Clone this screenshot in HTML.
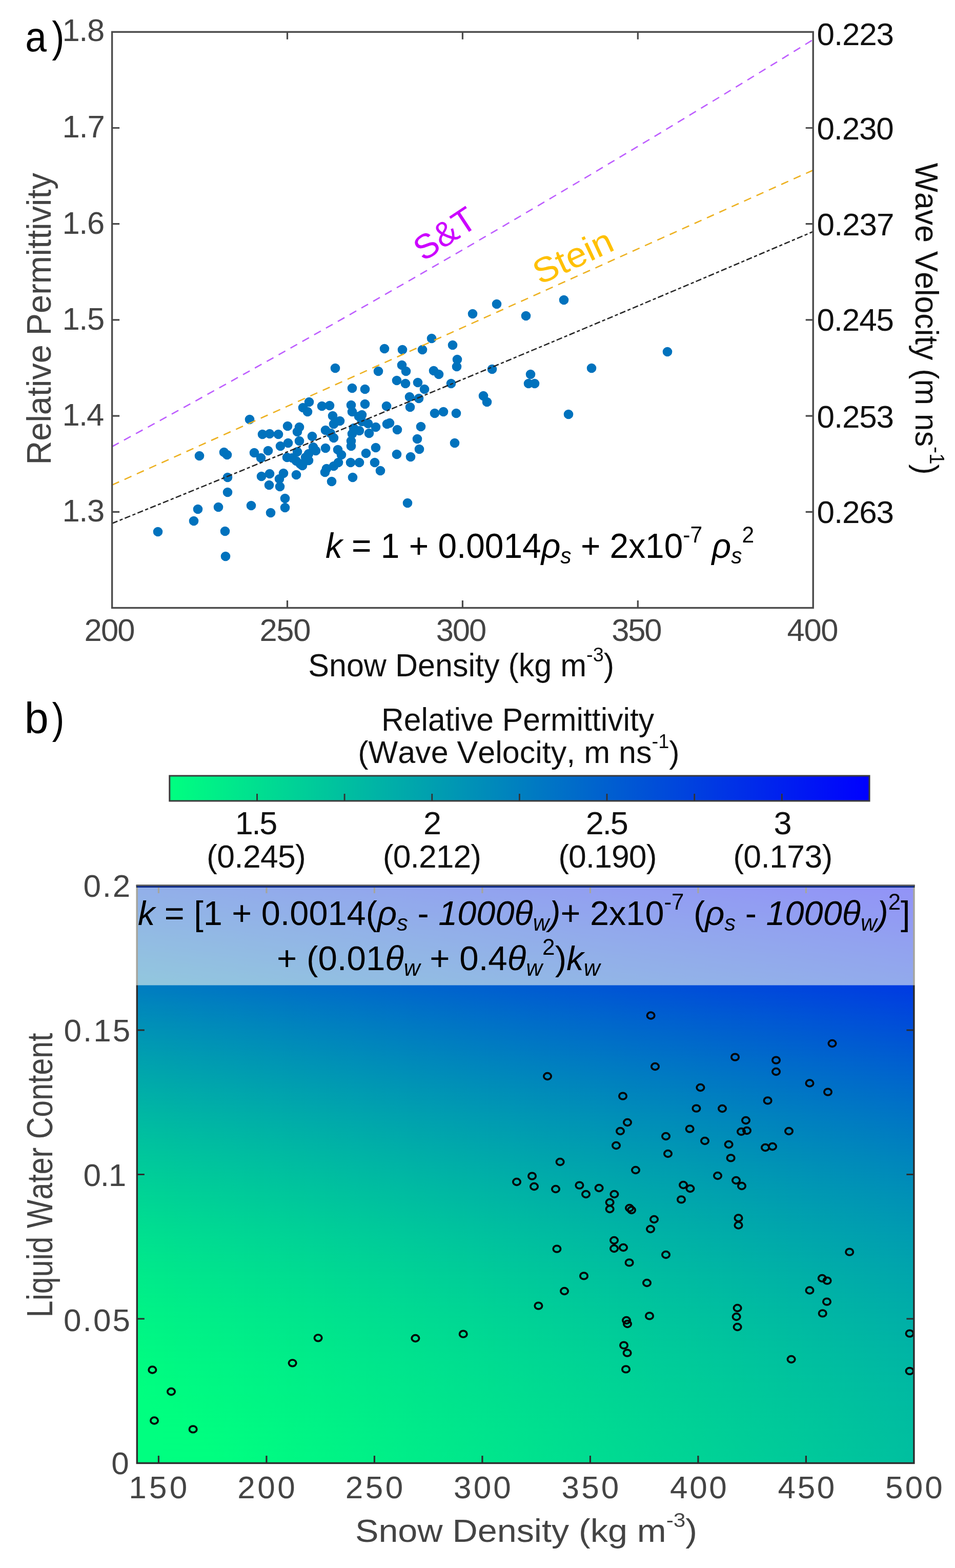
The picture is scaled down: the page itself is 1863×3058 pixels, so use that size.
<!DOCTYPE html>
<html><head><meta charset="utf-8"><title>Figure</title>
<style>html,body{margin:0;padding:0;background:#fff;}svg{display:block;}text{white-space:pre;font-kerning:none;font-variant-ligatures:none;}</style>
</head><body>
<svg xmlns="http://www.w3.org/2000/svg" width="1863" height="3058" viewBox="0 0 1863 3058" font-family="'Liberation Sans', Arial, Helvetica, sans-serif">
<rect width="1863" height="3058" fill="#fff"/>
<g fill="#0072bd">
<circle cx="308.0" cy="1037.0" r="9.3"/>
<circle cx="378.0" cy="1016.0" r="9.3"/>
<circle cx="386.0" cy="993.0" r="9.3"/>
<circle cx="389.0" cy="889.0" r="9.3"/>
<circle cx="437.0" cy="882.0" r="9.3"/>
<circle cx="443.0" cy="887.0" r="9.3"/>
<circle cx="426.0" cy="989.0" r="9.3"/>
<circle cx="439.0" cy="1036.0" r="9.3"/>
<circle cx="440.0" cy="1085.0" r="9.3"/>
<circle cx="444.0" cy="931.0" r="9.3"/>
<circle cx="444.0" cy="960.0" r="9.3"/>
<circle cx="487.0" cy="818.0" r="9.3"/>
<circle cx="490.0" cy="986.0" r="9.3"/>
<circle cx="496.0" cy="883.0" r="9.3"/>
<circle cx="509.0" cy="893.0" r="9.3"/>
<circle cx="523.0" cy="879.0" r="9.3"/>
<circle cx="510.0" cy="929.0" r="9.3"/>
<circle cx="526.0" cy="924.0" r="9.3"/>
<circle cx="525.0" cy="946.0" r="9.3"/>
<circle cx="528.0" cy="1000.0" r="9.3"/>
<circle cx="512.0" cy="847.0" r="9.3"/>
<circle cx="526.0" cy="846.0" r="9.3"/>
<circle cx="543.0" cy="847.0" r="9.3"/>
<circle cx="561.0" cy="831.0" r="9.3"/>
<circle cx="584.0" cy="833.0" r="9.3"/>
<circle cx="580.0" cy="842.0" r="9.3"/>
<circle cx="562.0" cy="864.0" r="9.3"/>
<circle cx="547.0" cy="870.0" r="9.3"/>
<circle cx="584.0" cy="860.0" r="9.3"/>
<circle cx="609.0" cy="851.0" r="9.3"/>
<circle cx="635.0" cy="839.0" r="9.3"/>
<circle cx="651.0" cy="854.0" r="9.3"/>
<circle cx="651.0" cy="827.0" r="9.3"/>
<circle cx="663.0" cy="821.0" r="9.3"/>
<circle cx="687.0" cy="846.0" r="9.3"/>
<circle cx="701.0" cy="840.0" r="9.3"/>
<circle cx="720.0" cy="845.0" r="9.3"/>
<circle cx="733.0" cy="833.0" r="9.3"/>
<circle cx="685.0" cy="870.0" r="9.3"/>
<circle cx="755.0" cy="827.0" r="9.3"/>
<circle cx="560.0" cy="892.0" r="9.3"/>
<circle cx="578.0" cy="899.0" r="9.3"/>
<circle cx="586.0" cy="905.0" r="9.3"/>
<circle cx="602.0" cy="898.0" r="9.3"/>
<circle cx="616.0" cy="879.0" r="9.3"/>
<circle cx="602.0" cy="885.0" r="9.3"/>
<circle cx="635.0" cy="874.0" r="9.3"/>
<circle cx="659.0" cy="877.0" r="9.3"/>
<circle cx="666.0" cy="887.0" r="9.3"/>
<circle cx="660.0" cy="902.0" r="9.3"/>
<circle cx="637.0" cy="914.0" r="9.3"/>
<circle cx="651.0" cy="909.0" r="9.3"/>
<circle cx="647.0" cy="939.0" r="9.3"/>
<circle cx="684.0" cy="902.0" r="9.3"/>
<circle cx="701.0" cy="902.0" r="9.3"/>
<circle cx="714.0" cy="884.0" r="9.3"/>
<circle cx="733.0" cy="873.0" r="9.3"/>
<circle cx="731.0" cy="902.0" r="9.3"/>
<circle cx="742.0" cy="918.0" r="9.3"/>
<circle cx="688.0" cy="931.0" r="9.3"/>
<circle cx="553.0" cy="923.0" r="9.3"/>
<circle cx="578.0" cy="926.0" r="9.3"/>
<circle cx="546.0" cy="949.0" r="9.3"/>
<circle cx="545.0" cy="934.0" r="9.3"/>
<circle cx="556.0" cy="972.0" r="9.3"/>
<circle cx="556.0" cy="990.0" r="9.3"/>
<circle cx="750.0" cy="680.0" r="9.3"/>
<circle cx="654.0" cy="718.0" r="9.3"/>
<circle cx="738.0" cy="724.0" r="9.3"/>
<circle cx="687.0" cy="757.0" r="9.3"/>
<circle cx="712.0" cy="759.0" r="9.3"/>
<circle cx="603.0" cy="784.0" r="9.3"/>
<circle cx="591.0" cy="795.0" r="9.3"/>
<circle cx="600.0" cy="803.0" r="9.3"/>
<circle cx="628.0" cy="792.0" r="9.3"/>
<circle cx="643.0" cy="791.0" r="9.3"/>
<circle cx="685.0" cy="790.0" r="9.3"/>
<circle cx="712.0" cy="788.0" r="9.3"/>
<circle cx="687.0" cy="803.0" r="9.3"/>
<circle cx="706.0" cy="809.0" r="9.3"/>
<circle cx="754.0" cy="792.0" r="9.3"/>
<circle cx="649.0" cy="811.0" r="9.3"/>
<circle cx="706.0" cy="822.0" r="9.3"/>
<circle cx="785.0" cy="682.0" r="9.3"/>
<circle cx="824.0" cy="682.0" r="9.3"/>
<circle cx="842.0" cy="660.0" r="9.3"/>
<circle cx="883.0" cy="673.0" r="9.3"/>
<circle cx="892.0" cy="701.0" r="9.3"/>
<circle cx="891.0" cy="715.0" r="9.3"/>
<circle cx="784.0" cy="712.0" r="9.3"/>
<circle cx="792.0" cy="724.0" r="9.3"/>
<circle cx="846.0" cy="723.0" r="9.3"/>
<circle cx="856.0" cy="730.0" r="9.3"/>
<circle cx="774.0" cy="742.0" r="9.3"/>
<circle cx="791.0" cy="748.0" r="9.3"/>
<circle cx="815.0" cy="746.0" r="9.3"/>
<circle cx="828.0" cy="759.0" r="9.3"/>
<circle cx="799.0" cy="774.0" r="9.3"/>
<circle cx="817.0" cy="777.0" r="9.3"/>
<circle cx="800.0" cy="794.0" r="9.3"/>
<circle cx="880.0" cy="748.0" r="9.3"/>
<circle cx="943.0" cy="772.0" r="9.3"/>
<circle cx="950.0" cy="784.0" r="9.3"/>
<circle cx="960.0" cy="720.0" r="9.3"/>
<circle cx="848.0" cy="806.0" r="9.3"/>
<circle cx="865.0" cy="803.0" r="9.3"/>
<circle cx="890.0" cy="806.0" r="9.3"/>
<circle cx="760.0" cy="825.0" r="9.3"/>
<circle cx="775.0" cy="838.0" r="9.3"/>
<circle cx="821.0" cy="832.0" r="9.3"/>
<circle cx="814.0" cy="856.0" r="9.3"/>
<circle cx="818.0" cy="876.0" r="9.3"/>
<circle cx="774.0" cy="886.0" r="9.3"/>
<circle cx="801.0" cy="891.0" r="9.3"/>
<circle cx="887.0" cy="864.0" r="9.3"/>
<circle cx="795.0" cy="981.0" r="9.3"/>
<circle cx="922.0" cy="612.0" r="9.3"/>
<circle cx="969.0" cy="593.0" r="9.3"/>
<circle cx="580.0" cy="881.0" r="9.3"/>
<circle cx="570.0" cy="893.0" r="9.3"/>
<circle cx="596.0" cy="892.0" r="9.3"/>
<circle cx="611.0" cy="872.0" r="9.3"/>
<circle cx="590.0" cy="908.0" r="9.3"/>
<circle cx="700.0" cy="812.0" r="9.3"/>
<circle cx="690.0" cy="835.0" r="9.3"/>
<circle cx="685.0" cy="860.0" r="9.3"/>
<circle cx="718.0" cy="826.0" r="9.3"/>
<circle cx="634.0" cy="921.0" r="9.3"/>
<circle cx="645.0" cy="845.0" r="9.3"/>
<circle cx="1026.0" cy="616.0" r="9.3"/>
<circle cx="1100.0" cy="585.0" r="9.3"/>
<circle cx="1035.0" cy="730.0" r="9.3"/>
<circle cx="1031.0" cy="748.0" r="9.3"/>
<circle cx="1043.0" cy="748.0" r="9.3"/>
<circle cx="1154.0" cy="718.0" r="9.3"/>
<circle cx="1109.0" cy="808.0" r="9.3"/>
<circle cx="1302.0" cy="686.0" r="9.3"/>
</g>
<path d="M218.6,871.0 L241.4,858.6 L264.2,846.2 L287.0,833.8 L309.8,821.4 L332.6,808.9 L355.4,796.3 L378.2,783.8 L400.9,771.2 L423.7,758.6 L446.5,746.0 L469.3,733.3 L492.1,720.6 L514.9,707.9 L537.7,695.2 L560.5,682.4 L583.3,669.6 L606.1,656.8 L628.9,643.9 L651.7,631.0 L674.5,618.1 L697.3,605.1 L720.1,592.1 L742.8,579.1 L765.6,566.1 L788.4,553.0 L811.2,539.9 L834.0,526.8 L856.8,513.6 L879.6,500.5 L902.4,487.2 L925.2,474.0 L948.0,460.7 L970.8,447.4 L993.6,434.1 L1016.4,420.7 L1039.2,407.3 L1062.0,393.9 L1084.7,380.5 L1107.5,367.0 L1130.3,353.5 L1153.1,340.0 L1175.9,326.4 L1198.7,312.8 L1221.5,299.2 L1244.3,285.5 L1267.1,271.9 L1289.9,258.1 L1312.7,244.4 L1335.5,230.6 L1358.3,216.8 L1381.1,203.0 L1403.9,189.2 L1426.6,175.3 L1449.4,161.4 L1472.2,147.4 L1495.0,133.5 L1517.8,119.5 L1540.6,105.4 L1563.4,91.4 L1586.2,77.3" fill="none" stroke="#bd5cff" stroke-width="2.6" stroke-dasharray="15 11.5"/>
<path d="M218.6,945.9 L241.4,935.7 L264.2,925.4 L287.0,915.2 L309.8,904.9 L332.6,894.7 L355.4,884.5 L378.2,874.2 L400.9,864.0 L423.7,853.8 L446.5,843.5 L469.3,833.3 L492.1,823.1 L514.9,812.8 L537.7,802.6 L560.5,792.4 L583.3,782.1 L606.1,771.9 L628.9,761.7 L651.7,751.4 L674.5,741.2 L697.3,731.0 L720.1,720.7 L742.8,710.5 L765.6,700.3 L788.4,690.0 L811.2,679.8 L834.0,669.6 L856.8,659.3 L879.6,649.1 L902.4,638.9 L925.2,628.6 L948.0,618.4 L970.8,608.2 L993.6,597.9 L1016.4,587.7 L1039.2,577.5 L1062.0,567.2 L1084.7,557.0 L1107.5,546.8 L1130.3,536.5 L1153.1,526.3 L1175.9,516.1 L1198.7,505.8 L1221.5,495.6 L1244.3,485.4 L1267.1,475.1 L1289.9,464.9 L1312.7,454.7 L1335.5,444.4 L1358.3,434.2 L1381.1,424.0 L1403.9,413.7 L1426.6,403.5 L1449.4,393.3 L1472.2,383.0 L1495.0,372.8 L1517.8,362.6 L1540.6,352.3 L1563.4,342.1 L1586.2,331.9" fill="none" stroke="#edb120" stroke-width="2.6" stroke-dasharray="15 11.5"/>
<path d="M218.6,1020.8 L241.4,1011.5 L264.2,1002.3 L287.0,993.0 L309.8,983.8 L332.6,974.5 L355.4,965.2 L378.2,955.9 L400.9,946.6 L423.7,937.3 L446.5,928.0 L469.3,918.7 L492.1,909.3 L514.9,900.0 L537.7,890.7 L560.5,881.3 L583.3,871.9 L606.1,862.6 L628.9,853.2 L651.7,843.8 L674.5,834.4 L697.3,825.0 L720.1,815.6 L742.8,806.2 L765.6,796.7 L788.4,787.3 L811.2,777.8 L834.0,768.4 L856.8,758.9 L879.6,749.4 L902.4,740.0 L925.2,730.5 L948.0,721.0 L970.8,711.5 L993.6,702.0 L1016.4,692.4 L1039.2,682.9 L1062.0,673.4 L1084.7,663.8 L1107.5,654.3 L1130.3,644.7 L1153.1,635.1 L1175.9,625.5 L1198.7,616.0 L1221.5,606.4 L1244.3,596.8 L1267.1,587.1 L1289.9,577.5 L1312.7,567.9 L1335.5,558.3 L1358.3,548.6 L1381.1,538.9 L1403.9,529.3 L1426.6,519.6 L1449.4,509.9 L1472.2,500.2 L1495.0,490.5 L1517.8,480.8 L1540.6,471.1 L1563.4,461.4 L1586.2,451.7" fill="none" stroke="#262626" stroke-width="2.6" stroke-dasharray="11.5 4.6 6.2 4.5"/>
<rect x="218.6" y="62.3" width="1367.6" height="1123.2" fill="none" stroke="#4a4a4a" stroke-width="3.4"/>
<path d="M218.6 998.3H233.1M1586.2 998.3H1571.7M218.6 811.1H233.1M1586.2 811.1H1571.7M218.6 623.9H233.1M1586.2 623.9H1571.7M218.6 436.7H233.1M1586.2 436.7H1571.7M218.6 249.5H233.1M1586.2 249.5H1571.7M560.5 1185.5V1171.0M560.5 62.3V76.8M902.4 1185.5V1171.0M902.4 62.3V76.8M1244.3 1185.5V1171.0M1244.3 62.3V76.8" stroke="#4a4a4a" stroke-width="3.2" fill="none"/>
<text transform="translate(121.62,80.00)" font-size="61.50" fill="#444444" letter-spacing="-1.47">1.8</text>
<text transform="translate(121.62,268.00)" font-size="61.50" fill="#444444" letter-spacing="-1.26">1.7</text>
<text transform="translate(121.62,456.00)" font-size="61.50" fill="#444444" letter-spacing="-1.45">1.6</text>
<text transform="translate(121.62,643.00)" font-size="61.50" fill="#444444" letter-spacing="-1.51">1.5</text>
<text transform="translate(121.62,830.20)" font-size="61.50" fill="#444444" letter-spacing="-1.90">1.4</text>
<text transform="translate(121.62,1017.30)" font-size="61.50" fill="#444444" letter-spacing="-1.45">1.3</text>
<text transform="translate(1593.58,87.90)" font-size="62.00" fill="#111" letter-spacing="-1.18">0.223</text>
<text transform="translate(1593.58,271.60)" font-size="62.00" fill="#111" letter-spacing="-1.25">0.230</text>
<text transform="translate(1593.58,459.10)" font-size="62.00" fill="#111" letter-spacing="-1.08">0.237</text>
<text transform="translate(1593.58,645.30)" font-size="62.00" fill="#111" letter-spacing="-1.21">0.245</text>
<text transform="translate(1593.58,834.10)" font-size="62.00" fill="#111" letter-spacing="-1.18">0.253</text>
<text transform="translate(1593.58,1020.20)" font-size="62.00" fill="#111" letter-spacing="-1.18">0.263</text>
<text transform="translate(164.61,1249.60)" font-size="61.50" fill="#444444" letter-spacing="-1.91">200</text>
<text transform="translate(506.51,1249.60)" font-size="61.50" fill="#444444" letter-spacing="-1.36">250</text>
<text transform="translate(850.66,1249.60)" font-size="61.50" fill="#444444" letter-spacing="-2.08">300</text>
<text transform="translate(1193.26,1249.60)" font-size="61.50" fill="#444444" letter-spacing="-2.23">350</text>
<text transform="translate(1535.59,1249.60)" font-size="61.50" fill="#444444" letter-spacing="-1.35">400</text>
<text transform="translate(601.23,1318.50) scale(0.9771,1)" font-size="62.50" fill="#111">Snow Density (kg m<tspan font-size="38.80" dy="-28.70">-3</tspan><tspan dy="28.70">)</tspan></text>
<text transform="translate(99.40,906.52) rotate(-90) scale(0.9682,1)" font-size="67.00" fill="#444444">Relative Permittivity</text>
<text transform="translate(1785.70,317.73) rotate(90) scale(0.9714,1)" font-size="62.50" fill="#111">Wave Velocity (m ns<tspan font-size="40.00" dy="-28.50">-1</tspan><tspan dy="28.50">)</tspan></text>
<text transform="translate(49.32,100.40) scale(0.9140,1)" font-size="82.00" fill="#000">a</text>
<text transform="translate(101.27,100.90) scale(0.8666,1)" font-size="84.00" fill="#000">)</text>
<text transform="translate(826,511) rotate(-33.5)" font-size="67" fill="#cc00ff">S&amp;T</text>
<text transform="translate(1053,556) rotate(-25) scale(1.06,1)" font-size="68" fill="#ffc000">Stein</text>
<text transform="translate(634.91,1088.40) scale(0.9677,1)" font-size="68.00" fill="#000"><tspan font-style="italic">k</tspan> = 1 + 0.0014<tspan font-style="italic">ρ</tspan><tspan font-size="44.00" font-style="italic" dy="11.00">s</tspan><tspan dy="-11.00"> + 2x10</tspan><tspan font-size="44.00" dy="-30.00">-7</tspan><tspan dy="30.00"> </tspan><tspan font-style="italic">ρ</tspan><tspan font-size="44.00" font-style="italic" dy="11.00">s</tspan><tspan font-size="44.00" dy="-41.00">2</tspan></text>
<defs><linearGradient id="g0"><stop offset="0.0000" stop-color="#0044dd"/><stop offset="0.8467" stop-color="#000df9"/><stop offset="1.0000" stop-color="#0002fe"/></linearGradient><linearGradient id="g1"><stop offset="0.0000" stop-color="#0045dc"/><stop offset="0.8467" stop-color="#000ef8"/><stop offset="1.0000" stop-color="#0003fe"/></linearGradient><linearGradient id="g2"><stop offset="0.0000" stop-color="#0046dc"/><stop offset="0.8467" stop-color="#000ef8"/><stop offset="1.0000" stop-color="#0004fd"/></linearGradient><linearGradient id="g3"><stop offset="0.0000" stop-color="#0047db"/><stop offset="0.8467" stop-color="#000ff7"/><stop offset="1.0000" stop-color="#0005fd"/></linearGradient><linearGradient id="g4"><stop offset="0.0000" stop-color="#0048db"/><stop offset="0.8467" stop-color="#0010f7"/><stop offset="1.0000" stop-color="#0006fc"/></linearGradient><linearGradient id="g5"><stop offset="0.0000" stop-color="#0049da"/><stop offset="0.8467" stop-color="#0011f6"/><stop offset="1.0000" stop-color="#0007fc"/></linearGradient><linearGradient id="g6"><stop offset="0.0000" stop-color="#004ada"/><stop offset="0.8467" stop-color="#0012f6"/><stop offset="1.0000" stop-color="#0008fb"/></linearGradient><linearGradient id="g7"><stop offset="0.0000" stop-color="#004bd9"/><stop offset="0.8467" stop-color="#0013f5"/><stop offset="1.0000" stop-color="#0009fb"/></linearGradient><linearGradient id="g8"><stop offset="0.0000" stop-color="#004cd9"/><stop offset="0.8467" stop-color="#0014f5"/><stop offset="1.0000" stop-color="#0009fa"/></linearGradient><linearGradient id="g9"><stop offset="0.0000" stop-color="#004dd9"/><stop offset="0.8467" stop-color="#0015f5"/><stop offset="1.0000" stop-color="#000afa"/></linearGradient><linearGradient id="g10"><stop offset="0.0000" stop-color="#004ed8"/><stop offset="0.8467" stop-color="#0016f4"/><stop offset="1.0000" stop-color="#000bf9"/></linearGradient><linearGradient id="g11"><stop offset="0.0000" stop-color="#004fd8"/><stop offset="0.8467" stop-color="#0017f4"/><stop offset="1.0000" stop-color="#000cf9"/></linearGradient><linearGradient id="g12"><stop offset="0.0000" stop-color="#0050d7"/><stop offset="0.8467" stop-color="#0018f3"/><stop offset="1.0000" stop-color="#000df8"/></linearGradient><linearGradient id="g13"><stop offset="0.0000" stop-color="#0051d7"/><stop offset="0.8467" stop-color="#0019f3"/><stop offset="1.0000" stop-color="#000ef8"/></linearGradient><linearGradient id="g14"><stop offset="0.0000" stop-color="#0052d6"/><stop offset="0.8467" stop-color="#001af2"/><stop offset="1.0000" stop-color="#000ff8"/></linearGradient><linearGradient id="g15"><stop offset="0.0000" stop-color="#0052d6"/><stop offset="0.8467" stop-color="#001af2"/><stop offset="1.0000" stop-color="#0010f7"/></linearGradient><linearGradient id="g16"><stop offset="0.0000" stop-color="#0053d5"/><stop offset="0.8467" stop-color="#001bf1"/><stop offset="1.0000" stop-color="#0011f7"/></linearGradient><linearGradient id="g17"><stop offset="0.0000" stop-color="#0054d5"/><stop offset="0.8467" stop-color="#001cf1"/><stop offset="1.0000" stop-color="#0012f6"/></linearGradient><linearGradient id="g18"><stop offset="0.0000" stop-color="#0055d4"/><stop offset="0.8467" stop-color="#001df0"/><stop offset="1.0000" stop-color="#0013f6"/></linearGradient><linearGradient id="g19"><stop offset="0.0000" stop-color="#0056d4"/><stop offset="0.8467" stop-color="#001ef0"/><stop offset="1.0000" stop-color="#0013f5"/></linearGradient><linearGradient id="g20"><stop offset="0.0000" stop-color="#0057d4"/><stop offset="0.8467" stop-color="#001ff0"/><stop offset="1.0000" stop-color="#0014f5"/></linearGradient><linearGradient id="g21"><stop offset="0.0000" stop-color="#0058d3"/><stop offset="0.8467" stop-color="#0020ef"/><stop offset="1.0000" stop-color="#0015f4"/></linearGradient><linearGradient id="g22"><stop offset="0.0000" stop-color="#0059d3"/><stop offset="0.8467" stop-color="#0021ef"/><stop offset="1.0000" stop-color="#0016f4"/></linearGradient><linearGradient id="g23"><stop offset="0.0000" stop-color="#005ad2"/><stop offset="0.8467" stop-color="#0022ee"/><stop offset="1.0000" stop-color="#0017f4"/></linearGradient><linearGradient id="g24"><stop offset="0.0000" stop-color="#005bd2"/><stop offset="0.8467" stop-color="#0023ee"/><stop offset="1.0000" stop-color="#0018f3"/></linearGradient><linearGradient id="g25"><stop offset="0.0000" stop-color="#005bd1"/><stop offset="0.8467" stop-color="#0023ed"/><stop offset="1.0000" stop-color="#0019f3"/></linearGradient><linearGradient id="g26"><stop offset="0.0000" stop-color="#005cd1"/><stop offset="0.8467" stop-color="#0024ed"/><stop offset="1.0000" stop-color="#001af2"/></linearGradient><linearGradient id="g27"><stop offset="0.0000" stop-color="#005dd0"/><stop offset="0.8467" stop-color="#0025ec"/><stop offset="1.0000" stop-color="#001bf2"/></linearGradient><linearGradient id="g28"><stop offset="0.0000" stop-color="#005ed0"/><stop offset="0.8467" stop-color="#0026ec"/><stop offset="1.0000" stop-color="#001bf1"/></linearGradient><linearGradient id="g29"><stop offset="0.0000" stop-color="#005fcf"/><stop offset="0.8467" stop-color="#0027ec"/><stop offset="1.0000" stop-color="#001cf1"/></linearGradient><linearGradient id="g30"><stop offset="0.0000" stop-color="#0060cf"/><stop offset="0.8467" stop-color="#0028eb"/><stop offset="1.0000" stop-color="#001df0"/></linearGradient><linearGradient id="g31"><stop offset="0.0000" stop-color="#0061cf"/><stop offset="0.8467" stop-color="#0029eb"/><stop offset="1.0000" stop-color="#001ef0"/></linearGradient><linearGradient id="g32"><stop offset="0.0000" stop-color="#0062ce"/><stop offset="0.8467" stop-color="#002aea"/><stop offset="1.0000" stop-color="#001ff0"/></linearGradient><linearGradient id="g33"><stop offset="0.0000" stop-color="#0063ce"/><stop offset="0.8467" stop-color="#002aea"/><stop offset="1.0000" stop-color="#0020ef"/></linearGradient><linearGradient id="g34"><stop offset="0.0000" stop-color="#0063cd"/><stop offset="0.8467" stop-color="#002be9"/><stop offset="1.0000" stop-color="#0021ef"/></linearGradient><linearGradient id="g35"><stop offset="0.0000" stop-color="#0064cd"/><stop offset="0.8467" stop-color="#002ce9"/><stop offset="1.0000" stop-color="#0021ee"/></linearGradient><linearGradient id="g36"><stop offset="0.0000" stop-color="#0065cc"/><stop offset="0.8467" stop-color="#002de8"/><stop offset="1.0000" stop-color="#0022ee"/></linearGradient><linearGradient id="g37"><stop offset="0.0000" stop-color="#0066cc"/><stop offset="0.8467" stop-color="#002ee8"/><stop offset="1.0000" stop-color="#0023ed"/></linearGradient><linearGradient id="g38"><stop offset="0.0000" stop-color="#0067cc"/><stop offset="0.8467" stop-color="#002fe8"/><stop offset="1.0000" stop-color="#0024ed"/></linearGradient><linearGradient id="g39"><stop offset="0.0000" stop-color="#0068cb"/><stop offset="0.8467" stop-color="#0030e7"/><stop offset="1.0000" stop-color="#0025ed"/></linearGradient><linearGradient id="g40"><stop offset="0.0000" stop-color="#0069cb"/><stop offset="0.8467" stop-color="#0030e7"/><stop offset="1.0000" stop-color="#0026ec"/></linearGradient><linearGradient id="g41"><stop offset="0.0000" stop-color="#0069ca"/><stop offset="0.8467" stop-color="#0031e6"/><stop offset="1.0000" stop-color="#0027ec"/></linearGradient><linearGradient id="g42"><stop offset="0.0000" stop-color="#006aca"/><stop offset="0.8467" stop-color="#0032e6"/><stop offset="1.0000" stop-color="#0027eb"/></linearGradient><linearGradient id="g43"><stop offset="0.0000" stop-color="#006bc9"/><stop offset="0.8467" stop-color="#0033e6"/><stop offset="1.0000" stop-color="#0028eb"/></linearGradient><linearGradient id="g44"><stop offset="0.0000" stop-color="#006cc9"/><stop offset="0.8467" stop-color="#0034e5"/><stop offset="1.0000" stop-color="#0029ea"/></linearGradient><linearGradient id="g45"><stop offset="0.0000" stop-color="#006dc9"/><stop offset="0.8467" stop-color="#0035e5"/><stop offset="1.0000" stop-color="#002aea"/></linearGradient><linearGradient id="g46"><stop offset="0.0000" stop-color="#006ec8"/><stop offset="0.8467" stop-color="#0035e4"/><stop offset="1.0000" stop-color="#002bea"/></linearGradient><linearGradient id="g47"><stop offset="0.0000" stop-color="#006fc8"/><stop offset="0.8467" stop-color="#0036e4"/><stop offset="1.0000" stop-color="#002ce9"/></linearGradient><linearGradient id="g48"><stop offset="0.0000" stop-color="#006fc7"/><stop offset="0.8467" stop-color="#0037e3"/><stop offset="1.0000" stop-color="#002ce9"/></linearGradient><linearGradient id="g49"><stop offset="0.0000" stop-color="#0070c7"/><stop offset="0.8467" stop-color="#0038e3"/><stop offset="1.0000" stop-color="#002de8"/></linearGradient><linearGradient id="g50"><stop offset="0.0000" stop-color="#0071c6"/><stop offset="0.8467" stop-color="#0039e3"/><stop offset="1.0000" stop-color="#002ee8"/></linearGradient><linearGradient id="g51"><stop offset="0.0000" stop-color="#0072c6"/><stop offset="0.8467" stop-color="#003ae2"/><stop offset="1.0000" stop-color="#002fe8"/></linearGradient><linearGradient id="g52"><stop offset="0.0000" stop-color="#0073c6"/><stop offset="0.8467" stop-color="#003ae2"/><stop offset="1.0000" stop-color="#0030e7"/></linearGradient><linearGradient id="g53"><stop offset="0.0000" stop-color="#0074c5"/><stop offset="0.8467" stop-color="#003be1"/><stop offset="1.0000" stop-color="#0031e7"/></linearGradient><linearGradient id="g54"><stop offset="0.0000" stop-color="#0074c5"/><stop offset="0.8467" stop-color="#003ce1"/><stop offset="1.0000" stop-color="#0031e6"/></linearGradient><linearGradient id="g55"><stop offset="0.0000" stop-color="#0075c4"/><stop offset="0.8467" stop-color="#003de1"/><stop offset="1.0000" stop-color="#0032e6"/></linearGradient><linearGradient id="g56"><stop offset="0.0000" stop-color="#0076c4"/><stop offset="0.8467" stop-color="#003ee0"/><stop offset="1.0000" stop-color="#0033e5"/></linearGradient><linearGradient id="g57"><stop offset="0.0000" stop-color="#0077c4"/><stop offset="0.8467" stop-color="#003fe0"/><stop offset="1.0000" stop-color="#0034e5"/></linearGradient><linearGradient id="g58"><stop offset="0.0000" stop-color="#0078c3"/><stop offset="0.8467" stop-color="#003fdf"/><stop offset="1.0000" stop-color="#0035e5"/></linearGradient><linearGradient id="g59"><stop offset="0.0000" stop-color="#0078c3"/><stop offset="0.8467" stop-color="#0040df"/><stop offset="1.0000" stop-color="#0035e4"/></linearGradient><linearGradient id="g60"><stop offset="0.0000" stop-color="#0079c2"/><stop offset="0.8467" stop-color="#0041df"/><stop offset="1.0000" stop-color="#0036e4"/></linearGradient><linearGradient id="g61"><stop offset="0.0000" stop-color="#007ac2"/><stop offset="0.8467" stop-color="#0042de"/><stop offset="1.0000" stop-color="#0037e3"/></linearGradient><linearGradient id="g62"><stop offset="0.0000" stop-color="#007bc2"/><stop offset="0.8467" stop-color="#0043de"/><stop offset="1.0000" stop-color="#0038e3"/></linearGradient><linearGradient id="g63"><stop offset="0.0000" stop-color="#007cc1"/><stop offset="0.8467" stop-color="#0043dd"/><stop offset="1.0000" stop-color="#0039e3"/></linearGradient><linearGradient id="g64"><stop offset="0.0000" stop-color="#007dc1"/><stop offset="0.8467" stop-color="#0044dd"/><stop offset="1.0000" stop-color="#0039e2"/></linearGradient><linearGradient id="g65"><stop offset="0.0000" stop-color="#007dc0"/><stop offset="0.8467" stop-color="#0045dd"/><stop offset="1.0000" stop-color="#003ae2"/></linearGradient><linearGradient id="g66"><stop offset="0.0000" stop-color="#007ec0"/><stop offset="0.8467" stop-color="#0046dc"/><stop offset="1.0000" stop-color="#003be1"/></linearGradient><linearGradient id="g67"><stop offset="0.0000" stop-color="#007fc0"/><stop offset="0.8467" stop-color="#0047dc"/><stop offset="1.0000" stop-color="#003ce1"/></linearGradient><linearGradient id="g68"><stop offset="0.0000" stop-color="#0080bf"/><stop offset="0.8467" stop-color="#0047db"/><stop offset="1.0000" stop-color="#003de1"/></linearGradient><linearGradient id="g69"><stop offset="0.0000" stop-color="#0080bf"/><stop offset="0.8467" stop-color="#0048db"/><stop offset="1.0000" stop-color="#003de0"/></linearGradient><linearGradient id="g70"><stop offset="0.0000" stop-color="#0081be"/><stop offset="0.8467" stop-color="#0049db"/><stop offset="1.0000" stop-color="#003ee0"/></linearGradient><linearGradient id="g71"><stop offset="0.0000" stop-color="#0082be"/><stop offset="0.8467" stop-color="#004ada"/><stop offset="1.0000" stop-color="#003fe0"/></linearGradient><linearGradient id="g72"><stop offset="0.0000" stop-color="#0083be"/><stop offset="0.8467" stop-color="#004ada"/><stop offset="1.0000" stop-color="#0040df"/></linearGradient><linearGradient id="g73"><stop offset="0.0000" stop-color="#0084bd"/><stop offset="0.8467" stop-color="#004bd9"/><stop offset="1.0000" stop-color="#0040df"/></linearGradient><linearGradient id="g74"><stop offset="0.0000" stop-color="#0084bd"/><stop offset="0.8467" stop-color="#004cd9"/><stop offset="1.0000" stop-color="#0041de"/></linearGradient><linearGradient id="g75"><stop offset="0.0000" stop-color="#0085bc"/><stop offset="0.8467" stop-color="#004dd9"/><stop offset="1.0000" stop-color="#0042de"/></linearGradient><linearGradient id="g76"><stop offset="0.0000" stop-color="#0086bc"/><stop offset="0.8467" stop-color="#004dd8"/><stop offset="1.0000" stop-color="#0043de"/></linearGradient><linearGradient id="g77"><stop offset="0.0000" stop-color="#0087bc"/><stop offset="0.8467" stop-color="#004ed8"/><stop offset="1.0000" stop-color="#0044dd"/></linearGradient><linearGradient id="g78"><stop offset="0.0000" stop-color="#0088bb"/><stop offset="0.8467" stop-color="#004fd7"/><stop offset="1.0000" stop-color="#0044dd"/></linearGradient><linearGradient id="g79"><stop offset="0.0000" stop-color="#0088bb"/><stop offset="0.8467" stop-color="#0050d7"/><stop offset="1.0000" stop-color="#0045dc"/></linearGradient><linearGradient id="g80"><stop offset="0.0000" stop-color="#0089ba"/><stop offset="0.8467" stop-color="#0051d7"/><stop offset="1.0000" stop-color="#0046dc"/></linearGradient><linearGradient id="g81"><stop offset="0.0000" stop-color="#008aba"/><stop offset="0.8467" stop-color="#0051d6"/><stop offset="1.0000" stop-color="#0047dc"/></linearGradient><linearGradient id="g82"><stop offset="0.0000" stop-color="#008bba"/><stop offset="0.8467" stop-color="#0052d6"/><stop offset="1.0000" stop-color="#0047db"/></linearGradient><linearGradient id="g83"><stop offset="0.0000" stop-color="#008bb9"/><stop offset="0.8467" stop-color="#0053d6"/><stop offset="1.0000" stop-color="#0048db"/></linearGradient><linearGradient id="g84"><stop offset="0.0000" stop-color="#008cb9"/><stop offset="0.8467" stop-color="#0054d5"/><stop offset="1.0000" stop-color="#0049db"/></linearGradient><linearGradient id="g85"><stop offset="0.0000" stop-color="#008db9"/><stop offset="0.8467" stop-color="#0054d5"/><stop offset="1.0000" stop-color="#004ada"/></linearGradient><linearGradient id="g86"><stop offset="0.0000" stop-color="#008eb8"/><stop offset="0.8467" stop-color="#0055d4"/><stop offset="1.0000" stop-color="#004ada"/></linearGradient><linearGradient id="g87"><stop offset="0.0000" stop-color="#008eb8"/><stop offset="0.8467" stop-color="#0056d4"/><stop offset="1.0000" stop-color="#004bd9"/></linearGradient><linearGradient id="g88"><stop offset="0.0000" stop-color="#008fb7"/><stop offset="0.8467" stop-color="#0057d4"/><stop offset="1.0000" stop-color="#004cd9"/></linearGradient><linearGradient id="g89"><stop offset="0.0000" stop-color="#0090b7"/><stop offset="0.8467" stop-color="#0057d3"/><stop offset="1.0000" stop-color="#004cd9"/></linearGradient><linearGradient id="g90"><stop offset="0.0000" stop-color="#0091b7"/><stop offset="0.8467" stop-color="#0058d3"/><stop offset="1.0000" stop-color="#004dd8"/></linearGradient><linearGradient id="g91"><stop offset="0.0000" stop-color="#0091b6"/><stop offset="0.8467" stop-color="#0059d3"/><stop offset="1.0000" stop-color="#004ed8"/></linearGradient><linearGradient id="g92"><stop offset="0.0000" stop-color="#0092b6"/><stop offset="0.8467" stop-color="#0059d2"/><stop offset="1.0000" stop-color="#004fd8"/></linearGradient><linearGradient id="g93"><stop offset="0.0000" stop-color="#0093b6"/><stop offset="0.8467" stop-color="#005ad2"/><stop offset="1.0000" stop-color="#004fd7"/></linearGradient><linearGradient id="g94"><stop offset="0.0000" stop-color="#0094b5"/><stop offset="0.8467" stop-color="#005bd2"/><stop offset="1.0000" stop-color="#0050d7"/></linearGradient><linearGradient id="g95"><stop offset="0.0000" stop-color="#0094b5"/><stop offset="0.8467" stop-color="#005cd1"/><stop offset="1.0000" stop-color="#0051d7"/></linearGradient><linearGradient id="g96"><stop offset="0.0000" stop-color="#0095b5"/><stop offset="0.8467" stop-color="#005cd1"/><stop offset="1.0000" stop-color="#0052d6"/></linearGradient><linearGradient id="g97"><stop offset="0.0000" stop-color="#0096b4"/><stop offset="0.8467" stop-color="#005dd0"/><stop offset="1.0000" stop-color="#0052d6"/></linearGradient><linearGradient id="g98"><stop offset="0.0000" stop-color="#0096b4"/><stop offset="0.8467" stop-color="#005ed0"/><stop offset="1.0000" stop-color="#0053d5"/></linearGradient><linearGradient id="g99"><stop offset="0.0000" stop-color="#0097b3"/><stop offset="0.8467" stop-color="#005ed0"/><stop offset="1.0000" stop-color="#0054d5"/></linearGradient><linearGradient id="g100"><stop offset="0.0000" stop-color="#0098b3"/><stop offset="0.8467" stop-color="#005fcf"/><stop offset="1.0000" stop-color="#0054d5"/></linearGradient><linearGradient id="g101"><stop offset="0.0000" stop-color="#0099b3"/><stop offset="0.8467" stop-color="#0060cf"/><stop offset="1.0000" stop-color="#0055d4"/></linearGradient><linearGradient id="g102"><stop offset="0.0000" stop-color="#0099b2"/><stop offset="0.8467" stop-color="#0061cf"/><stop offset="1.0000" stop-color="#0056d4"/></linearGradient><linearGradient id="g103"><stop offset="0.0000" stop-color="#009ab2"/><stop offset="0.8467" stop-color="#0061ce"/><stop offset="1.0000" stop-color="#0057d4"/></linearGradient><linearGradient id="g104"><stop offset="0.0000" stop-color="#009bb2"/><stop offset="0.8467" stop-color="#0062ce"/><stop offset="1.0000" stop-color="#0057d3"/></linearGradient><linearGradient id="g105"><stop offset="0.0000" stop-color="#009bb1"/><stop offset="0.8467" stop-color="#0063ce"/><stop offset="1.0000" stop-color="#0058d3"/></linearGradient><linearGradient id="g106"><stop offset="0.0000" stop-color="#009cb1"/><stop offset="0.8467" stop-color="#0063cd"/><stop offset="1.0000" stop-color="#0059d3"/></linearGradient><linearGradient id="g107"><stop offset="0.0000" stop-color="#009db1"/><stop offset="0.8467" stop-color="#0064cd"/><stop offset="1.0000" stop-color="#0059d2"/></linearGradient><linearGradient id="g108"><stop offset="0.0000" stop-color="#009eb0"/><stop offset="0.8467" stop-color="#0065cd"/><stop offset="1.0000" stop-color="#005ad2"/></linearGradient><linearGradient id="g109"><stop offset="0.0000" stop-color="#009eb0"/><stop offset="0.8467" stop-color="#0065cc"/><stop offset="1.0000" stop-color="#005bd2"/></linearGradient><linearGradient id="g110"><stop offset="0.0000" stop-color="#009fb0"/><stop offset="0.8467" stop-color="#0066cc"/><stop offset="1.0000" stop-color="#005bd1"/></linearGradient><linearGradient id="g111"><stop offset="0.0000" stop-color="#00a0af"/><stop offset="0.8467" stop-color="#0067cc"/><stop offset="1.0000" stop-color="#005cd1"/></linearGradient><linearGradient id="g112"><stop offset="0.0000" stop-color="#00a0af"/><stop offset="0.8467" stop-color="#0068cb"/><stop offset="1.0000" stop-color="#005dd1"/></linearGradient><linearGradient id="g113"><stop offset="0.0000" stop-color="#00a1ae"/><stop offset="0.8467" stop-color="#0068cb"/><stop offset="1.0000" stop-color="#005dd0"/></linearGradient><linearGradient id="g114"><stop offset="0.0000" stop-color="#00a2ae"/><stop offset="0.8467" stop-color="#0069cb"/><stop offset="1.0000" stop-color="#005ed0"/></linearGradient><linearGradient id="g115"><stop offset="0.0000" stop-color="#00a2ae"/><stop offset="0.8467" stop-color="#006aca"/><stop offset="1.0000" stop-color="#005fd0"/></linearGradient><linearGradient id="g116"><stop offset="0.0000" stop-color="#00a3ad"/><stop offset="0.8467" stop-color="#006aca"/><stop offset="1.0000" stop-color="#005fcf"/></linearGradient><linearGradient id="g117"><stop offset="0.0000" stop-color="#00a4ad"/><stop offset="0.8467" stop-color="#006bca"/><stop offset="1.0000" stop-color="#0060cf"/></linearGradient><linearGradient id="g118"><stop offset="0.0000" stop-color="#00a4ad"/><stop offset="0.8467" stop-color="#006cc9"/><stop offset="1.0000" stop-color="#0061cf"/></linearGradient><linearGradient id="g119"><stop offset="0.0000" stop-color="#00a5ac"/><stop offset="0.8467" stop-color="#006cc9"/><stop offset="1.0000" stop-color="#0061ce"/></linearGradient><linearGradient id="g120"><stop offset="0.0000" stop-color="#00a6ac"/><stop offset="0.8467" stop-color="#006dc9"/><stop offset="1.0000" stop-color="#0062ce"/></linearGradient><linearGradient id="g121"><stop offset="0.0000" stop-color="#00a6ac"/><stop offset="0.8467" stop-color="#006ec8"/><stop offset="1.0000" stop-color="#0063ce"/></linearGradient><linearGradient id="g122"><stop offset="0.0000" stop-color="#00a7ab"/><stop offset="0.8467" stop-color="#006ec8"/><stop offset="1.0000" stop-color="#0063cd"/></linearGradient><linearGradient id="g123"><stop offset="0.0000" stop-color="#00a8ab"/><stop offset="0.8467" stop-color="#006fc8"/><stop offset="1.0000" stop-color="#0064cd"/></linearGradient><linearGradient id="g124"><stop offset="0.0000" stop-color="#00a8ab"/><stop offset="0.8467" stop-color="#0070c7"/><stop offset="1.0000" stop-color="#0065cd"/></linearGradient><linearGradient id="g125"><stop offset="0.0000" stop-color="#00a9aa"/><stop offset="0.8467" stop-color="#0070c7"/><stop offset="1.0000" stop-color="#0065cc"/></linearGradient><linearGradient id="g126"><stop offset="0.0000" stop-color="#00aaaa"/><stop offset="0.8467" stop-color="#0071c7"/><stop offset="1.0000" stop-color="#0066cc"/></linearGradient><linearGradient id="g127"><stop offset="0.0000" stop-color="#00aaaa"/><stop offset="0.8467" stop-color="#0072c6"/><stop offset="1.0000" stop-color="#0067cc"/></linearGradient><linearGradient id="g128"><stop offset="0.0000" stop-color="#00aba9"/><stop offset="0.8467" stop-color="#0072c6"/><stop offset="1.0000" stop-color="#0067cb"/></linearGradient><linearGradient id="g129"><stop offset="0.0000" stop-color="#00aca9"/><stop offset="0.8467" stop-color="#0073c6"/><stop offset="1.0000" stop-color="#0068cb"/></linearGradient><linearGradient id="g130"><stop offset="0.0000" stop-color="#00aca9"/><stop offset="0.8467" stop-color="#0073c5"/><stop offset="1.0000" stop-color="#0069cb"/></linearGradient><linearGradient id="g131"><stop offset="0.0000" stop-color="#00ada8"/><stop offset="0.8467" stop-color="#0074c5"/><stop offset="1.0000" stop-color="#0069ca"/></linearGradient><linearGradient id="g132"><stop offset="0.0000" stop-color="#00aea8"/><stop offset="0.8467" stop-color="#0075c5"/><stop offset="1.0000" stop-color="#006aca"/></linearGradient><linearGradient id="g133"><stop offset="0.0000" stop-color="#00aea8"/><stop offset="0.8467" stop-color="#0075c4"/><stop offset="1.0000" stop-color="#006bca"/></linearGradient><linearGradient id="g134"><stop offset="0.0000" stop-color="#00afa8"/><stop offset="0.8467" stop-color="#0076c4"/><stop offset="1.0000" stop-color="#006bc9"/></linearGradient><linearGradient id="g135"><stop offset="0.0000" stop-color="#00b0a7"/><stop offset="0.8467" stop-color="#0077c4"/><stop offset="1.0000" stop-color="#006cc9"/></linearGradient><linearGradient id="g136"><stop offset="0.0000" stop-color="#00b0a7"/><stop offset="0.8467" stop-color="#0077c3"/><stop offset="1.0000" stop-color="#006cc9"/></linearGradient><linearGradient id="g137"><stop offset="0.0000" stop-color="#00b1a7"/><stop offset="0.8467" stop-color="#0078c3"/><stop offset="1.0000" stop-color="#006dc8"/></linearGradient><linearGradient id="g138"><stop offset="0.0000" stop-color="#00b1a6"/><stop offset="0.8467" stop-color="#0078c3"/><stop offset="1.0000" stop-color="#006ec8"/></linearGradient><linearGradient id="g139"><stop offset="0.0000" stop-color="#00b2a6"/><stop offset="0.8467" stop-color="#0079c2"/><stop offset="1.0000" stop-color="#006ec8"/></linearGradient><linearGradient id="g140"><stop offset="0.0000" stop-color="#00b3a6"/><stop offset="0.8467" stop-color="#007ac2"/><stop offset="1.0000" stop-color="#006fc8"/></linearGradient><linearGradient id="g141"><stop offset="0.0000" stop-color="#00b3a5"/><stop offset="0.8467" stop-color="#007ac2"/><stop offset="1.0000" stop-color="#0070c7"/></linearGradient><linearGradient id="g142"><stop offset="0.0000" stop-color="#00b4a5"/><stop offset="0.8467" stop-color="#007bc2"/><stop offset="1.0000" stop-color="#0070c7"/></linearGradient><linearGradient id="g143"><stop offset="0.0000" stop-color="#00b5a5"/><stop offset="0.8467" stop-color="#007cc1"/><stop offset="1.0000" stop-color="#0071c7"/></linearGradient><linearGradient id="g144"><stop offset="0.0000" stop-color="#00b5a4"/><stop offset="0.8467" stop-color="#007cc1"/><stop offset="1.0000" stop-color="#0071c6"/></linearGradient><linearGradient id="g145"><stop offset="0.0000" stop-color="#00b6a4"/><stop offset="0.8467" stop-color="#007dc1"/><stop offset="1.0000" stop-color="#0072c6"/></linearGradient><linearGradient id="g146"><stop offset="0.0000" stop-color="#00b6a4"/><stop offset="0.8467" stop-color="#007dc0"/><stop offset="1.0000" stop-color="#0073c6"/></linearGradient><linearGradient id="g147"><stop offset="0.0000" stop-color="#00b7a3"/><stop offset="0.8467" stop-color="#007ec0"/><stop offset="1.0000" stop-color="#0073c5"/></linearGradient><linearGradient id="g148"><stop offset="0.0000" stop-color="#00b8a3"/><stop offset="0.8467" stop-color="#007fc0"/><stop offset="1.0000" stop-color="#0074c5"/></linearGradient><linearGradient id="g149"><stop offset="0.0000" stop-color="#00b8a3"/><stop offset="0.8467" stop-color="#007fbf"/><stop offset="1.0000" stop-color="#0074c5"/></linearGradient><linearGradient id="g150"><stop offset="0.0000" stop-color="#00b9a3"/><stop offset="0.8467" stop-color="#0080bf"/><stop offset="1.0000" stop-color="#0075c5"/></linearGradient><linearGradient id="g151"><stop offset="0.0000" stop-color="#00b9a2"/><stop offset="0.8467" stop-color="#0080bf"/><stop offset="1.0000" stop-color="#0076c4"/></linearGradient><linearGradient id="g152"><stop offset="0.0000" stop-color="#00baa2"/><stop offset="0.8467" stop-color="#0081bf"/><stop offset="1.0000" stop-color="#0076c4"/></linearGradient><linearGradient id="g153"><stop offset="0.0000" stop-color="#00bba2"/><stop offset="0.8467" stop-color="#0082be"/><stop offset="1.0000" stop-color="#0077c4"/></linearGradient><linearGradient id="g154"><stop offset="0.0000" stop-color="#00bba1"/><stop offset="0.8467" stop-color="#0082be"/><stop offset="1.0000" stop-color="#0077c3"/></linearGradient><linearGradient id="g155"><stop offset="0.0000" stop-color="#00bca1"/><stop offset="0.8467" stop-color="#0083be"/><stop offset="1.0000" stop-color="#0078c3"/></linearGradient><linearGradient id="g156"><stop offset="0.0000" stop-color="#00bca1"/><stop offset="0.8467" stop-color="#0083bd"/><stop offset="1.0000" stop-color="#0078c3"/></linearGradient><linearGradient id="g157"><stop offset="0.0000" stop-color="#00bda0"/><stop offset="0.8467" stop-color="#0084bd"/><stop offset="1.0000" stop-color="#0079c2"/></linearGradient><linearGradient id="g158"><stop offset="0.0000" stop-color="#00bea0"/><stop offset="0.8467" stop-color="#0084bd"/><stop offset="1.0000" stop-color="#007ac2"/></linearGradient><linearGradient id="g159"><stop offset="0.0000" stop-color="#00bea0"/><stop offset="0.8467" stop-color="#0085bc"/><stop offset="1.0000" stop-color="#007ac2"/></linearGradient><linearGradient id="g160"><stop offset="0.0000" stop-color="#00bfa0"/><stop offset="0.8467" stop-color="#0086bc"/><stop offset="1.0000" stop-color="#007bc2"/></linearGradient><linearGradient id="g161"><stop offset="0.0000" stop-color="#00bf9f"/><stop offset="0.8467" stop-color="#0086bc"/><stop offset="1.0000" stop-color="#007bc1"/></linearGradient><linearGradient id="g162"><stop offset="0.0000" stop-color="#00c09f"/><stop offset="0.8467" stop-color="#0087bc"/><stop offset="1.0000" stop-color="#007cc1"/></linearGradient><linearGradient id="g163"><stop offset="0.0000" stop-color="#00c09f"/><stop offset="0.8467" stop-color="#0087bb"/><stop offset="1.0000" stop-color="#007cc1"/></linearGradient><linearGradient id="g164"><stop offset="0.0000" stop-color="#00c19e"/><stop offset="0.8467" stop-color="#0088bb"/><stop offset="1.0000" stop-color="#007dc1"/></linearGradient><linearGradient id="g165"><stop offset="0.0000" stop-color="#00c29e"/><stop offset="0.8467" stop-color="#0088bb"/><stop offset="1.0000" stop-color="#007ec0"/></linearGradient><linearGradient id="g166"><stop offset="0.0000" stop-color="#00c29e"/><stop offset="0.8467" stop-color="#0089bb"/><stop offset="1.0000" stop-color="#007ec0"/></linearGradient><linearGradient id="g167"><stop offset="0.0000" stop-color="#00c39e"/><stop offset="0.8467" stop-color="#008aba"/><stop offset="1.0000" stop-color="#007fc0"/></linearGradient><linearGradient id="g168"><stop offset="0.0000" stop-color="#00c39d"/><stop offset="0.8467" stop-color="#008aba"/><stop offset="1.0000" stop-color="#007fbf"/></linearGradient><linearGradient id="g169"><stop offset="0.0000" stop-color="#00c49d"/><stop offset="0.8467" stop-color="#008bba"/><stop offset="1.0000" stop-color="#0080bf"/></linearGradient><linearGradient id="g170"><stop offset="0.0000" stop-color="#00c49d"/><stop offset="0.8467" stop-color="#008bb9"/><stop offset="1.0000" stop-color="#0080bf"/></linearGradient><linearGradient id="g171"><stop offset="0.0000" stop-color="#00c59d"/><stop offset="0.8467" stop-color="#008cb9"/><stop offset="1.0000" stop-color="#0081bf"/></linearGradient><linearGradient id="g172"><stop offset="0.0000" stop-color="#00c69c"/><stop offset="0.8467" stop-color="#008cb9"/><stop offset="1.0000" stop-color="#0081be"/></linearGradient><linearGradient id="g173"><stop offset="0.0000" stop-color="#00c69c"/><stop offset="0.8467" stop-color="#008db9"/><stop offset="1.0000" stop-color="#0082be"/></linearGradient><linearGradient id="g174"><stop offset="0.0000" stop-color="#00c79c"/><stop offset="0.8467" stop-color="#008db8"/><stop offset="1.0000" stop-color="#0082be"/></linearGradient><linearGradient id="g175"><stop offset="0.0000" stop-color="#00c79b"/><stop offset="0.8467" stop-color="#008eb8"/><stop offset="1.0000" stop-color="#0083bd"/></linearGradient><linearGradient id="g176"><stop offset="0.0000" stop-color="#00c89b"/><stop offset="0.8467" stop-color="#008eb8"/><stop offset="1.0000" stop-color="#0084bd"/></linearGradient><linearGradient id="g177"><stop offset="0.0000" stop-color="#00c89b"/><stop offset="0.8467" stop-color="#008fb8"/><stop offset="1.0000" stop-color="#0084bd"/></linearGradient><linearGradient id="g178"><stop offset="0.0000" stop-color="#00c99b"/><stop offset="0.8467" stop-color="#008fb7"/><stop offset="1.0000" stop-color="#0085bd"/></linearGradient><linearGradient id="g179"><stop offset="0.0000" stop-color="#00c99a"/><stop offset="0.8467" stop-color="#0090b7"/><stop offset="1.0000" stop-color="#0085bc"/></linearGradient><linearGradient id="g180"><stop offset="0.0000" stop-color="#00ca9a"/><stop offset="0.8467" stop-color="#0091b7"/><stop offset="1.0000" stop-color="#0086bc"/></linearGradient><linearGradient id="g181"><stop offset="0.0000" stop-color="#00ca9a"/><stop offset="0.8467" stop-color="#0091b6"/><stop offset="1.0000" stop-color="#0086bc"/></linearGradient><linearGradient id="g182"><stop offset="0.0000" stop-color="#00cb9a"/><stop offset="0.8467" stop-color="#0092b6"/><stop offset="1.0000" stop-color="#0087bc"/></linearGradient><linearGradient id="g183"><stop offset="0.0000" stop-color="#00cb99"/><stop offset="0.8467" stop-color="#0092b6"/><stop offset="1.0000" stop-color="#0087bb"/></linearGradient><linearGradient id="g184"><stop offset="0.0000" stop-color="#00cc99"/><stop offset="0.8467" stop-color="#0093b6"/><stop offset="1.0000" stop-color="#0088bb"/></linearGradient><linearGradient id="g185"><stop offset="0.0000" stop-color="#00cd99"/><stop offset="0.8467" stop-color="#0093b5"/><stop offset="1.0000" stop-color="#0088bb"/></linearGradient><linearGradient id="g186"><stop offset="0.0000" stop-color="#00cd98"/><stop offset="0.8467" stop-color="#0094b5"/><stop offset="1.0000" stop-color="#0089bb"/></linearGradient><linearGradient id="g187"><stop offset="0.0000" stop-color="#00ce98"/><stop offset="0.8467" stop-color="#0094b5"/><stop offset="1.0000" stop-color="#0089ba"/></linearGradient><linearGradient id="g188"><stop offset="0.0000" stop-color="#00ce98"/><stop offset="0.8467" stop-color="#0095b5"/><stop offset="1.0000" stop-color="#008aba"/></linearGradient><linearGradient id="g189"><stop offset="0.0000" stop-color="#00cf98"/><stop offset="0.8467" stop-color="#0095b4"/><stop offset="1.0000" stop-color="#008aba"/></linearGradient><linearGradient id="g190"><stop offset="0.0000" stop-color="#00cf97"/><stop offset="0.8467" stop-color="#0096b4"/><stop offset="1.0000" stop-color="#008bba"/></linearGradient><linearGradient id="g191"><stop offset="0.0000" stop-color="#00d097"/><stop offset="0.8467" stop-color="#0096b4"/><stop offset="1.0000" stop-color="#008bb9"/></linearGradient><linearGradient id="g192"><stop offset="0.0000" stop-color="#00d097"/><stop offset="0.8467" stop-color="#0097b4"/><stop offset="1.0000" stop-color="#008cb9"/></linearGradient><linearGradient id="g193"><stop offset="0.0000" stop-color="#00d197"/><stop offset="0.8467" stop-color="#0097b3"/><stop offset="1.0000" stop-color="#008cb9"/></linearGradient><linearGradient id="g194"><stop offset="0.0000" stop-color="#00d196"/><stop offset="0.8467" stop-color="#0098b3"/><stop offset="1.0000" stop-color="#008db9"/></linearGradient><linearGradient id="g195"><stop offset="0.0000" stop-color="#00d296"/><stop offset="0.8467" stop-color="#0098b3"/><stop offset="1.0000" stop-color="#008db8"/></linearGradient><linearGradient id="g196"><stop offset="0.0000" stop-color="#00d296"/><stop offset="0.8467" stop-color="#0099b3"/><stop offset="1.0000" stop-color="#008eb8"/></linearGradient><linearGradient id="g197"><stop offset="0.0000" stop-color="#00d396"/><stop offset="0.8467" stop-color="#0099b2"/><stop offset="1.0000" stop-color="#008eb8"/></linearGradient><linearGradient id="g198"><stop offset="0.0000" stop-color="#00d395"/><stop offset="0.8467" stop-color="#009ab2"/><stop offset="1.0000" stop-color="#008fb8"/></linearGradient><linearGradient id="g199"><stop offset="0.0000" stop-color="#00d495"/><stop offset="0.8467" stop-color="#009ab2"/><stop offset="1.0000" stop-color="#008fb7"/></linearGradient><linearGradient id="g200"><stop offset="0.0000" stop-color="#00d495"/><stop offset="0.8467" stop-color="#009bb2"/><stop offset="1.0000" stop-color="#0090b7"/></linearGradient><linearGradient id="g201"><stop offset="0.0000" stop-color="#00d595"/><stop offset="0.8467" stop-color="#009bb1"/><stop offset="1.0000" stop-color="#0090b7"/></linearGradient><linearGradient id="g202"><stop offset="0.0000" stop-color="#00d594"/><stop offset="0.8467" stop-color="#009bb1"/><stop offset="1.0000" stop-color="#0091b7"/></linearGradient><linearGradient id="g203"><stop offset="0.0000" stop-color="#00d594"/><stop offset="0.8467" stop-color="#009cb1"/><stop offset="1.0000" stop-color="#0091b6"/></linearGradient><linearGradient id="g204"><stop offset="0.0000" stop-color="#00d694"/><stop offset="0.8467" stop-color="#009cb1"/><stop offset="1.0000" stop-color="#0092b6"/></linearGradient><linearGradient id="g205"><stop offset="0.0000" stop-color="#00d694"/><stop offset="0.8467" stop-color="#009db1"/><stop offset="1.0000" stop-color="#0092b6"/></linearGradient><linearGradient id="g206"><stop offset="0.0000" stop-color="#00d794"/><stop offset="0.8467" stop-color="#009db0"/><stop offset="1.0000" stop-color="#0092b6"/></linearGradient><linearGradient id="g207"><stop offset="0.0000" stop-color="#00d793"/><stop offset="0.8467" stop-color="#009eb0"/><stop offset="1.0000" stop-color="#0093b6"/></linearGradient><linearGradient id="g208"><stop offset="0.0000" stop-color="#00d893"/><stop offset="0.8467" stop-color="#009eb0"/><stop offset="1.0000" stop-color="#0093b5"/></linearGradient><linearGradient id="g209"><stop offset="0.0000" stop-color="#00d893"/><stop offset="0.8467" stop-color="#009fb0"/><stop offset="1.0000" stop-color="#0094b5"/></linearGradient><linearGradient id="g210"><stop offset="0.0000" stop-color="#00d993"/><stop offset="0.8467" stop-color="#009faf"/><stop offset="1.0000" stop-color="#0094b5"/></linearGradient><linearGradient id="g211"><stop offset="0.0000" stop-color="#00d992"/><stop offset="0.8467" stop-color="#00a0af"/><stop offset="1.0000" stop-color="#0095b5"/></linearGradient><linearGradient id="g212"><stop offset="0.0000" stop-color="#00da92"/><stop offset="0.8467" stop-color="#00a0af"/><stop offset="1.0000" stop-color="#0095b4"/></linearGradient><linearGradient id="g213"><stop offset="0.0000" stop-color="#00da92"/><stop offset="0.8467" stop-color="#00a1af"/><stop offset="1.0000" stop-color="#0096b4"/></linearGradient><linearGradient id="g214"><stop offset="0.0000" stop-color="#00db92"/><stop offset="0.8467" stop-color="#00a1ae"/><stop offset="1.0000" stop-color="#0096b4"/></linearGradient><linearGradient id="g215"><stop offset="0.0000" stop-color="#00db91"/><stop offset="0.8467" stop-color="#00a1ae"/><stop offset="1.0000" stop-color="#0097b4"/></linearGradient><linearGradient id="g216"><stop offset="0.0000" stop-color="#00dc91"/><stop offset="0.8467" stop-color="#00a2ae"/><stop offset="1.0000" stop-color="#0097b4"/></linearGradient><linearGradient id="g217"><stop offset="0.0000" stop-color="#00dc91"/><stop offset="0.8467" stop-color="#00a2ae"/><stop offset="1.0000" stop-color="#0097b3"/></linearGradient><linearGradient id="g218"><stop offset="0.0000" stop-color="#00dc91"/><stop offset="0.8467" stop-color="#00a3ae"/><stop offset="1.0000" stop-color="#0098b3"/></linearGradient><linearGradient id="g219"><stop offset="0.0000" stop-color="#00dd91"/><stop offset="0.8467" stop-color="#00a3ad"/><stop offset="1.0000" stop-color="#0098b3"/></linearGradient><linearGradient id="g220"><stop offset="0.0000" stop-color="#00dd90"/><stop offset="0.8467" stop-color="#00a4ad"/><stop offset="1.0000" stop-color="#0099b3"/></linearGradient><linearGradient id="g221"><stop offset="0.0000" stop-color="#00de90"/><stop offset="0.8467" stop-color="#00a4ad"/><stop offset="1.0000" stop-color="#0099b2"/></linearGradient><linearGradient id="g222"><stop offset="0.0000" stop-color="#00de90"/><stop offset="0.8467" stop-color="#00a4ad"/><stop offset="1.0000" stop-color="#009ab2"/></linearGradient><linearGradient id="g223"><stop offset="0.0000" stop-color="#00df90"/><stop offset="0.8467" stop-color="#00a5ad"/><stop offset="1.0000" stop-color="#009ab2"/></linearGradient><linearGradient id="g224"><stop offset="0.0000" stop-color="#00df8f"/><stop offset="0.8467" stop-color="#00a5ac"/><stop offset="1.0000" stop-color="#009ab2"/></linearGradient><linearGradient id="g225"><stop offset="0.0000" stop-color="#00df8f"/><stop offset="0.8467" stop-color="#00a6ac"/><stop offset="1.0000" stop-color="#009bb2"/></linearGradient><linearGradient id="g226"><stop offset="0.0000" stop-color="#00e08f"/><stop offset="0.8467" stop-color="#00a6ac"/><stop offset="1.0000" stop-color="#009bb1"/></linearGradient><linearGradient id="g227"><stop offset="0.0000" stop-color="#00e08f"/><stop offset="0.8467" stop-color="#00a7ac"/><stop offset="1.0000" stop-color="#009cb1"/></linearGradient><linearGradient id="g228"><stop offset="0.0000" stop-color="#00e18f"/><stop offset="0.8467" stop-color="#00a7ac"/><stop offset="1.0000" stop-color="#009cb1"/></linearGradient><linearGradient id="g229"><stop offset="0.0000" stop-color="#00e18e"/><stop offset="0.8467" stop-color="#00a7ab"/><stop offset="1.0000" stop-color="#009cb1"/></linearGradient><linearGradient id="g230"><stop offset="0.0000" stop-color="#00e28e"/><stop offset="0.8467" stop-color="#00a8ab"/><stop offset="1.0000" stop-color="#009db1"/></linearGradient><linearGradient id="g231"><stop offset="0.0000" stop-color="#00e28e"/><stop offset="0.8467" stop-color="#00a8ab"/><stop offset="1.0000" stop-color="#009db0"/></linearGradient><linearGradient id="g232"><stop offset="0.0000" stop-color="#00e28e"/><stop offset="0.8467" stop-color="#00a9ab"/><stop offset="1.0000" stop-color="#009eb0"/></linearGradient><linearGradient id="g233"><stop offset="0.0000" stop-color="#00e38e"/><stop offset="0.8467" stop-color="#00a9aa"/><stop offset="1.0000" stop-color="#009eb0"/></linearGradient><linearGradient id="g234"><stop offset="0.0000" stop-color="#00e38d"/><stop offset="0.8467" stop-color="#00a9aa"/><stop offset="1.0000" stop-color="#009eb0"/></linearGradient><linearGradient id="g235"><stop offset="0.0000" stop-color="#00e48d"/><stop offset="0.8467" stop-color="#00aaaa"/><stop offset="1.0000" stop-color="#009fb0"/></linearGradient><linearGradient id="g236"><stop offset="0.0000" stop-color="#00e48d"/><stop offset="0.8467" stop-color="#00aaaa"/><stop offset="1.0000" stop-color="#009faf"/></linearGradient><linearGradient id="g237"><stop offset="0.0000" stop-color="#00e48d"/><stop offset="0.8467" stop-color="#00abaa"/><stop offset="1.0000" stop-color="#00a0af"/></linearGradient><linearGradient id="g238"><stop offset="0.0000" stop-color="#00e58d"/><stop offset="0.8467" stop-color="#00aba9"/><stop offset="1.0000" stop-color="#00a0af"/></linearGradient><linearGradient id="g239"><stop offset="0.0000" stop-color="#00e58c"/><stop offset="0.8467" stop-color="#00aba9"/><stop offset="1.0000" stop-color="#00a0af"/></linearGradient><linearGradient id="g240"><stop offset="0.0000" stop-color="#00e68c"/><stop offset="0.8467" stop-color="#00aca9"/><stop offset="1.0000" stop-color="#00a1af"/></linearGradient><linearGradient id="g241"><stop offset="0.0000" stop-color="#00e68c"/><stop offset="0.8467" stop-color="#00aca9"/><stop offset="1.0000" stop-color="#00a1ae"/></linearGradient><linearGradient id="g242"><stop offset="0.0000" stop-color="#00e68c"/><stop offset="0.8467" stop-color="#00ada9"/><stop offset="1.0000" stop-color="#00a2ae"/></linearGradient><linearGradient id="g243"><stop offset="0.0000" stop-color="#00e78c"/><stop offset="0.8467" stop-color="#00ada9"/><stop offset="1.0000" stop-color="#00a2ae"/></linearGradient><linearGradient id="g244"><stop offset="0.0000" stop-color="#00e78b"/><stop offset="0.8467" stop-color="#00ada8"/><stop offset="1.0000" stop-color="#00a2ae"/></linearGradient><linearGradient id="g245"><stop offset="0.0000" stop-color="#00e88b"/><stop offset="0.8467" stop-color="#00aea8"/><stop offset="1.0000" stop-color="#00a3ae"/></linearGradient><linearGradient id="g246"><stop offset="0.0000" stop-color="#00e88b"/><stop offset="0.8467" stop-color="#00aea8"/><stop offset="1.0000" stop-color="#00a3ad"/></linearGradient><linearGradient id="g247"><stop offset="0.0000" stop-color="#00e88b"/><stop offset="0.8467" stop-color="#00aea8"/><stop offset="1.0000" stop-color="#00a3ad"/></linearGradient><linearGradient id="g248"><stop offset="0.0000" stop-color="#00e98b"/><stop offset="0.8467" stop-color="#00afa8"/><stop offset="1.0000" stop-color="#00a4ad"/></linearGradient><linearGradient id="g249"><stop offset="0.0000" stop-color="#00e98a"/><stop offset="0.8467" stop-color="#00afa7"/><stop offset="1.0000" stop-color="#00a4ad"/></linearGradient><linearGradient id="g250"><stop offset="0.0000" stop-color="#00e98a"/><stop offset="0.8467" stop-color="#00afa7"/><stop offset="1.0000" stop-color="#00a5ad"/></linearGradient><linearGradient id="g251"><stop offset="0.0000" stop-color="#00ea8a"/><stop offset="0.8467" stop-color="#00b0a7"/><stop offset="1.0000" stop-color="#00a5ad"/></linearGradient><linearGradient id="g252"><stop offset="0.0000" stop-color="#00ea8a"/><stop offset="0.8467" stop-color="#00b0a7"/><stop offset="1.0000" stop-color="#00a5ac"/></linearGradient><linearGradient id="g253"><stop offset="0.0000" stop-color="#00eb8a"/><stop offset="0.8467" stop-color="#00b1a7"/><stop offset="1.0000" stop-color="#00a6ac"/></linearGradient><linearGradient id="g254"><stop offset="0.0000" stop-color="#00eb8a"/><stop offset="0.8467" stop-color="#00b1a7"/><stop offset="1.0000" stop-color="#00a6ac"/></linearGradient><linearGradient id="g255"><stop offset="0.0000" stop-color="#00eb89"/><stop offset="0.8467" stop-color="#00b1a6"/><stop offset="1.0000" stop-color="#00a6ac"/></linearGradient><linearGradient id="g256"><stop offset="0.0000" stop-color="#00ec89"/><stop offset="0.8467" stop-color="#00b2a6"/><stop offset="1.0000" stop-color="#00a7ac"/></linearGradient><linearGradient id="g257"><stop offset="0.0000" stop-color="#00ec89"/><stop offset="0.8467" stop-color="#00b2a6"/><stop offset="1.0000" stop-color="#00a7ac"/></linearGradient><linearGradient id="g258"><stop offset="0.0000" stop-color="#00ec89"/><stop offset="0.8467" stop-color="#00b2a6"/><stop offset="1.0000" stop-color="#00a7ab"/></linearGradient><linearGradient id="g259"><stop offset="0.0000" stop-color="#00ed89"/><stop offset="0.8467" stop-color="#00b3a6"/><stop offset="1.0000" stop-color="#00a8ab"/></linearGradient><linearGradient id="g260"><stop offset="0.0000" stop-color="#00ed89"/><stop offset="0.8467" stop-color="#00b3a6"/><stop offset="1.0000" stop-color="#00a8ab"/></linearGradient><linearGradient id="g261"><stop offset="0.0000" stop-color="#00ed88"/><stop offset="0.8467" stop-color="#00b3a5"/><stop offset="1.0000" stop-color="#00a8ab"/></linearGradient><linearGradient id="g262"><stop offset="0.0000" stop-color="#00ee88"/><stop offset="0.8467" stop-color="#00b4a5"/><stop offset="1.0000" stop-color="#00a9ab"/></linearGradient><linearGradient id="g263"><stop offset="0.0000" stop-color="#00ee88"/><stop offset="0.8467" stop-color="#00b4a5"/><stop offset="1.0000" stop-color="#00a9ab"/></linearGradient><linearGradient id="g264"><stop offset="0.0000" stop-color="#00ee88"/><stop offset="0.8467" stop-color="#00b4a5"/><stop offset="1.0000" stop-color="#00a9aa"/></linearGradient><linearGradient id="g265"><stop offset="0.0000" stop-color="#00ef88"/><stop offset="0.8467" stop-color="#00b5a5"/><stop offset="1.0000" stop-color="#00aaaa"/></linearGradient><linearGradient id="g266"><stop offset="0.0000" stop-color="#00ef87"/><stop offset="0.8467" stop-color="#00b5a5"/><stop offset="1.0000" stop-color="#00aaaa"/></linearGradient><linearGradient id="g267"><stop offset="0.0000" stop-color="#00ef87"/><stop offset="0.8467" stop-color="#00b5a4"/><stop offset="1.0000" stop-color="#00aaaa"/></linearGradient><linearGradient id="g268"><stop offset="0.0000" stop-color="#00f087"/><stop offset="0.8467" stop-color="#00b6a4"/><stop offset="1.0000" stop-color="#00abaa"/></linearGradient><linearGradient id="g269"><stop offset="0.0000" stop-color="#00f087"/><stop offset="0.8467" stop-color="#00b6a4"/><stop offset="1.0000" stop-color="#00abaa"/></linearGradient><linearGradient id="g270"><stop offset="0.0000" stop-color="#00f087"/><stop offset="0.8467" stop-color="#00b6a4"/><stop offset="1.0000" stop-color="#00aba9"/></linearGradient><linearGradient id="g271"><stop offset="0.0000" stop-color="#00f187"/><stop offset="0.8467" stop-color="#00b7a4"/><stop offset="1.0000" stop-color="#00aca9"/></linearGradient><linearGradient id="g272"><stop offset="0.0000" stop-color="#00f187"/><stop offset="0.8467" stop-color="#00b7a4"/><stop offset="1.0000" stop-color="#00aca9"/></linearGradient><linearGradient id="g273"><stop offset="0.0000" stop-color="#00f186"/><stop offset="0.8467" stop-color="#00b7a3"/><stop offset="1.0000" stop-color="#00aca9"/></linearGradient><linearGradient id="g274"><stop offset="0.0000" stop-color="#00f286"/><stop offset="0.8467" stop-color="#00b7a3"/><stop offset="1.0000" stop-color="#00aca9"/></linearGradient><linearGradient id="g275"><stop offset="0.0000" stop-color="#00f286"/><stop offset="0.8467" stop-color="#00b8a3"/><stop offset="1.0000" stop-color="#00ada9"/></linearGradient><linearGradient id="g276"><stop offset="0.0000" stop-color="#00f286"/><stop offset="0.8467" stop-color="#00b8a3"/><stop offset="1.0000" stop-color="#00ada8"/></linearGradient><linearGradient id="g277"><stop offset="0.0000" stop-color="#00f386"/><stop offset="0.8467" stop-color="#00b8a3"/><stop offset="1.0000" stop-color="#00ada8"/></linearGradient><linearGradient id="g278"><stop offset="0.0000" stop-color="#00f386"/><stop offset="0.8467" stop-color="#00b9a3"/><stop offset="1.0000" stop-color="#00aea8"/></linearGradient><linearGradient id="g279"><stop offset="0.0000" stop-color="#00f385"/><stop offset="0.8467" stop-color="#00b9a3"/><stop offset="1.0000" stop-color="#00aea8"/></linearGradient><linearGradient id="g280"><stop offset="0.0000" stop-color="#00f385"/><stop offset="0.8467" stop-color="#00b9a2"/><stop offset="1.0000" stop-color="#00aea8"/></linearGradient><linearGradient id="g281"><stop offset="0.0000" stop-color="#00f485"/><stop offset="0.8467" stop-color="#00baa2"/><stop offset="1.0000" stop-color="#00afa8"/></linearGradient><linearGradient id="g282"><stop offset="0.0000" stop-color="#00f485"/><stop offset="0.8467" stop-color="#00baa2"/><stop offset="1.0000" stop-color="#00afa8"/></linearGradient><linearGradient id="g283"><stop offset="0.0000" stop-color="#00f485"/><stop offset="0.8467" stop-color="#00baa2"/><stop offset="1.0000" stop-color="#00afa7"/></linearGradient><linearGradient id="g284"><stop offset="0.0000" stop-color="#00f585"/><stop offset="0.8467" stop-color="#00baa2"/><stop offset="1.0000" stop-color="#00afa7"/></linearGradient><linearGradient id="g285"><stop offset="0.0000" stop-color="#00f585"/><stop offset="0.8467" stop-color="#00bba2"/><stop offset="1.0000" stop-color="#00b0a7"/></linearGradient><linearGradient id="g286"><stop offset="0.0000" stop-color="#00f584"/><stop offset="0.8467" stop-color="#00bba2"/><stop offset="1.0000" stop-color="#00b0a7"/></linearGradient><linearGradient id="g287"><stop offset="0.0000" stop-color="#00f584"/><stop offset="0.8467" stop-color="#00bba1"/><stop offset="1.0000" stop-color="#00b0a7"/></linearGradient><linearGradient id="g288"><stop offset="0.0000" stop-color="#00f684"/><stop offset="0.8467" stop-color="#00bca1"/><stop offset="1.0000" stop-color="#00b0a7"/></linearGradient><linearGradient id="g289"><stop offset="0.0000" stop-color="#00f684"/><stop offset="0.8467" stop-color="#00bca1"/><stop offset="1.0000" stop-color="#00b1a7"/></linearGradient><linearGradient id="g290"><stop offset="0.0000" stop-color="#00f684"/><stop offset="0.8467" stop-color="#00bca1"/><stop offset="1.0000" stop-color="#00b1a6"/></linearGradient><linearGradient id="g291"><stop offset="0.0000" stop-color="#00f784"/><stop offset="0.8467" stop-color="#00bca1"/><stop offset="1.0000" stop-color="#00b1a6"/></linearGradient><linearGradient id="g292"><stop offset="0.0000" stop-color="#00f784"/><stop offset="0.8467" stop-color="#00bda1"/><stop offset="1.0000" stop-color="#00b2a6"/></linearGradient><linearGradient id="g293"><stop offset="0.0000" stop-color="#00f783"/><stop offset="0.8467" stop-color="#00bda1"/><stop offset="1.0000" stop-color="#00b2a6"/></linearGradient><linearGradient id="g294"><stop offset="0.0000" stop-color="#00f783"/><stop offset="0.8467" stop-color="#00bda0"/><stop offset="1.0000" stop-color="#00b2a6"/></linearGradient><linearGradient id="g295"><stop offset="0.0000" stop-color="#00f883"/><stop offset="0.8467" stop-color="#00bda0"/><stop offset="1.0000" stop-color="#00b2a6"/></linearGradient><linearGradient id="g296"><stop offset="0.0000" stop-color="#00f883"/><stop offset="0.8467" stop-color="#00bea0"/><stop offset="1.0000" stop-color="#00b3a6"/></linearGradient><linearGradient id="g297"><stop offset="0.0000" stop-color="#00f883"/><stop offset="0.8467" stop-color="#00bea0"/><stop offset="1.0000" stop-color="#00b3a6"/></linearGradient><linearGradient id="g298"><stop offset="0.0000" stop-color="#00f883"/><stop offset="0.8467" stop-color="#00bea0"/><stop offset="1.0000" stop-color="#00b3a5"/></linearGradient><linearGradient id="g299"><stop offset="0.0000" stop-color="#00f983"/><stop offset="0.8467" stop-color="#00bea0"/><stop offset="1.0000" stop-color="#00b3a5"/></linearGradient><linearGradient id="g300"><stop offset="0.0000" stop-color="#00f983"/><stop offset="0.8467" stop-color="#00bfa0"/><stop offset="1.0000" stop-color="#00b4a5"/></linearGradient><linearGradient id="g301"><stop offset="0.0000" stop-color="#00f982"/><stop offset="0.8467" stop-color="#00bfa0"/><stop offset="1.0000" stop-color="#00b4a5"/></linearGradient><linearGradient id="g302"><stop offset="0.0000" stop-color="#00f982"/><stop offset="0.8467" stop-color="#00bf9f"/><stop offset="1.0000" stop-color="#00b4a5"/></linearGradient><linearGradient id="g303"><stop offset="0.0000" stop-color="#00fa82"/><stop offset="0.8467" stop-color="#00bf9f"/><stop offset="1.0000" stop-color="#00b4a5"/></linearGradient><linearGradient id="g304"><stop offset="0.0000" stop-color="#00fa82"/><stop offset="0.8467" stop-color="#00c09f"/><stop offset="1.0000" stop-color="#00b5a5"/></linearGradient><linearGradient id="g305"><stop offset="0.0000" stop-color="#00fa82"/><stop offset="0.8467" stop-color="#00c09f"/><stop offset="1.0000" stop-color="#00b5a5"/></linearGradient><linearGradient id="g306"><stop offset="0.0000" stop-color="#00fa82"/><stop offset="0.8467" stop-color="#00c09f"/><stop offset="1.0000" stop-color="#00b5a5"/></linearGradient><linearGradient id="g307"><stop offset="0.0000" stop-color="#00fb82"/><stop offset="0.8467" stop-color="#00c09f"/><stop offset="1.0000" stop-color="#00b5a4"/></linearGradient><linearGradient id="g308"><stop offset="0.0000" stop-color="#00fb82"/><stop offset="0.8467" stop-color="#00c19f"/><stop offset="1.0000" stop-color="#00b5a4"/></linearGradient><linearGradient id="g309"><stop offset="0.0000" stop-color="#00fb81"/><stop offset="0.8467" stop-color="#00c19f"/><stop offset="1.0000" stop-color="#00b6a4"/></linearGradient><linearGradient id="g310"><stop offset="0.0000" stop-color="#00fb81"/><stop offset="0.8467" stop-color="#00c19f"/><stop offset="1.0000" stop-color="#00b6a4"/></linearGradient><linearGradient id="g311"><stop offset="0.0000" stop-color="#00fc81"/><stop offset="0.8467" stop-color="#00c19e"/><stop offset="1.0000" stop-color="#00b6a4"/></linearGradient><linearGradient id="g312"><stop offset="0.0000" stop-color="#00fc81"/><stop offset="0.8467" stop-color="#00c19e"/><stop offset="1.0000" stop-color="#00b6a4"/></linearGradient><linearGradient id="g313"><stop offset="0.0000" stop-color="#00fc81"/><stop offset="0.8467" stop-color="#00c29e"/><stop offset="1.0000" stop-color="#00b7a4"/></linearGradient><linearGradient id="g314"><stop offset="0.0000" stop-color="#00fc81"/><stop offset="0.8467" stop-color="#00c29e"/><stop offset="1.0000" stop-color="#00b7a4"/></linearGradient><linearGradient id="g315"><stop offset="0.0000" stop-color="#00fd81"/><stop offset="0.8467" stop-color="#00c29e"/><stop offset="1.0000" stop-color="#00b7a4"/></linearGradient><linearGradient id="g316"><stop offset="0.0000" stop-color="#00fd81"/><stop offset="0.8467" stop-color="#00c29e"/><stop offset="1.0000" stop-color="#00b7a3"/></linearGradient><linearGradient id="g317"><stop offset="0.0000" stop-color="#00fd81"/><stop offset="0.8467" stop-color="#00c29e"/><stop offset="1.0000" stop-color="#00b7a3"/></linearGradient><linearGradient id="g318"><stop offset="0.0000" stop-color="#00fd80"/><stop offset="0.8467" stop-color="#00c39e"/><stop offset="1.0000" stop-color="#00b8a3"/></linearGradient><linearGradient id="g319"><stop offset="0.0000" stop-color="#00fd80"/><stop offset="0.8467" stop-color="#00c39e"/><stop offset="1.0000" stop-color="#00b8a3"/></linearGradient><linearGradient id="g320"><stop offset="0.0000" stop-color="#00fe80"/><stop offset="0.8467" stop-color="#00c39d"/><stop offset="1.0000" stop-color="#00b8a3"/></linearGradient><linearGradient id="g321"><stop offset="0.0000" stop-color="#00fe80"/><stop offset="0.8467" stop-color="#00c39d"/><stop offset="1.0000" stop-color="#00b8a3"/></linearGradient><linearGradient id="g322"><stop offset="0.0000" stop-color="#00fe80"/><stop offset="0.8467" stop-color="#00c39d"/><stop offset="1.0000" stop-color="#00b8a3"/></linearGradient><linearGradient id="g323"><stop offset="0.0000" stop-color="#00fe80"/><stop offset="0.8467" stop-color="#00c49d"/><stop offset="1.0000" stop-color="#00b9a3"/></linearGradient><linearGradient id="g324"><stop offset="0.0000" stop-color="#00fe80"/><stop offset="0.8467" stop-color="#00c49d"/><stop offset="1.0000" stop-color="#00b9a3"/></linearGradient><linearGradient id="g325"><stop offset="0.0000" stop-color="#00ff80"/><stop offset="0.8467" stop-color="#00c49d"/><stop offset="1.0000" stop-color="#00b9a3"/></linearGradient><linearGradient id="g326"><stop offset="0.0000" stop-color="#00ff80"/><stop offset="0.8467" stop-color="#00c49d"/><stop offset="1.0000" stop-color="#00b9a2"/></linearGradient><linearGradient id="g327"><stop offset="0.0000" stop-color="#00ff80"/><stop offset="0.8467" stop-color="#00c49d"/><stop offset="1.0000" stop-color="#00b9a2"/></linearGradient><linearGradient id="g328"><stop offset="0.0000" stop-color="#00ff80"/><stop offset="0.7933" stop-color="#00c89b"/><stop offset="1.0000" stop-color="#00b9a2"/></linearGradient><linearGradient id="g329"><stop offset="0.0000" stop-color="#00ff80"/><stop offset="0.7133" stop-color="#00ce98"/><stop offset="1.0000" stop-color="#00baa2"/></linearGradient><linearGradient id="g330"><stop offset="0.0000" stop-color="#00ff80"/><stop offset="0.5867" stop-color="#00d793"/><stop offset="1.0000" stop-color="#00baa2"/></linearGradient><linearGradient id="g331"><stop offset="0.0000" stop-color="#00ff80"/><stop offset="0.0933" stop-color="#00f982"/><stop offset="0.9400" stop-color="#00bea0"/><stop offset="1.0000" stop-color="#00baa2"/></linearGradient><linearGradient id="g332"><stop offset="0.0000" stop-color="#00ff80"/><stop offset="0.0400" stop-color="#00fd80"/><stop offset="0.8867" stop-color="#00c29e"/><stop offset="1.0000" stop-color="#00baa2"/></linearGradient><linearGradient id="g333"><stop offset="0.0000" stop-color="#00ff80"/><stop offset="0.0400" stop-color="#00fd80"/><stop offset="0.8867" stop-color="#00c39e"/><stop offset="1.0000" stop-color="#00baa2"/></linearGradient><linearGradient id="g334"><stop offset="0.0000" stop-color="#00ff80"/><stop offset="0.0333" stop-color="#00fe80"/><stop offset="0.8800" stop-color="#00c39d"/><stop offset="1.0000" stop-color="#00baa2"/></linearGradient><linearGradient id="g335"><stop offset="0.0000" stop-color="#00ff80"/><stop offset="0.0333" stop-color="#00fe80"/><stop offset="0.8800" stop-color="#00c39d"/><stop offset="1.0000" stop-color="#00bba2"/></linearGradient><linearGradient id="g336"><stop offset="0.0000" stop-color="#00ff80"/><stop offset="0.0400" stop-color="#00fe80"/><stop offset="0.8867" stop-color="#00c39d"/><stop offset="1.0000" stop-color="#00bba2"/></linearGradient><linearGradient id="g337"><stop offset="0.0000" stop-color="#00ff80"/><stop offset="0.0400" stop-color="#00fe80"/><stop offset="0.8867" stop-color="#00c39d"/><stop offset="1.0000" stop-color="#00bba2"/></linearGradient><linearGradient id="g338"><stop offset="0.0000" stop-color="#00ff80"/><stop offset="0.0400" stop-color="#00fe80"/><stop offset="0.8867" stop-color="#00c39d"/><stop offset="1.0000" stop-color="#00bba1"/></linearGradient><linearGradient id="g339"><stop offset="0.0000" stop-color="#00ff80"/><stop offset="0.0467" stop-color="#00fe80"/><stop offset="0.8933" stop-color="#00c39d"/><stop offset="1.0000" stop-color="#00bba1"/></linearGradient><linearGradient id="g340"><stop offset="0.0000" stop-color="#00ff80"/><stop offset="0.0400" stop-color="#00ff80"/><stop offset="0.8867" stop-color="#00c49d"/><stop offset="1.0000" stop-color="#00bba1"/></linearGradient><linearGradient id="g341"><stop offset="0.0000" stop-color="#00ff80"/><stop offset="0.0467" stop-color="#00fe80"/><stop offset="0.8933" stop-color="#00c39d"/><stop offset="1.0000" stop-color="#00bca1"/></linearGradient><linearGradient id="g342"><stop offset="0.0000" stop-color="#00ff80"/><stop offset="0.0467" stop-color="#00fe80"/><stop offset="0.8933" stop-color="#00c39d"/><stop offset="1.0000" stop-color="#00bca1"/></linearGradient><linearGradient id="g343"><stop offset="0.0000" stop-color="#00ff80"/><stop offset="0.0467" stop-color="#00ff80"/><stop offset="0.8933" stop-color="#00c49d"/><stop offset="1.0000" stop-color="#00bca1"/></linearGradient><linearGradient id="g344"><stop offset="0.0000" stop-color="#00ff80"/><stop offset="0.0533" stop-color="#00fe80"/><stop offset="0.9000" stop-color="#00c39d"/><stop offset="1.0000" stop-color="#00bca1"/></linearGradient><linearGradient id="g345"><stop offset="0.0000" stop-color="#00ff80"/><stop offset="0.0533" stop-color="#00fe80"/><stop offset="0.9000" stop-color="#00c39d"/><stop offset="1.0000" stop-color="#00bca1"/></linearGradient><linearGradient id="g346"><stop offset="0.0000" stop-color="#00ff80"/><stop offset="0.0533" stop-color="#00ff80"/><stop offset="0.9000" stop-color="#00c49d"/><stop offset="1.0000" stop-color="#00bca1"/></linearGradient><linearGradient id="g347"><stop offset="0.0000" stop-color="#00ff80"/><stop offset="0.0600" stop-color="#00fe80"/><stop offset="0.9067" stop-color="#00c39d"/><stop offset="1.0000" stop-color="#00bca1"/></linearGradient><linearGradient id="g348"><stop offset="0.0000" stop-color="#00ff80"/><stop offset="0.0600" stop-color="#00fe80"/><stop offset="0.9067" stop-color="#00c39d"/><stop offset="1.0000" stop-color="#00bda1"/></linearGradient><linearGradient id="g349"><stop offset="0.0000" stop-color="#00ff80"/><stop offset="0.0600" stop-color="#00ff80"/><stop offset="0.9067" stop-color="#00c39d"/><stop offset="1.0000" stop-color="#00bda1"/></linearGradient><linearGradient id="g350"><stop offset="0.0000" stop-color="#00ff80"/><stop offset="0.0667" stop-color="#00fe80"/><stop offset="0.9133" stop-color="#00c39d"/><stop offset="1.0000" stop-color="#00bda1"/></linearGradient><linearGradient id="g351"><stop offset="0.0000" stop-color="#00ff80"/><stop offset="0.0667" stop-color="#00fe80"/><stop offset="0.9133" stop-color="#00c39d"/><stop offset="1.0000" stop-color="#00bda1"/></linearGradient><linearGradient id="g352"><stop offset="0.0000" stop-color="#00ff80"/><stop offset="0.0667" stop-color="#00ff80"/><stop offset="0.9133" stop-color="#00c39d"/><stop offset="1.0000" stop-color="#00bda0"/></linearGradient><linearGradient id="g353"><stop offset="0.0000" stop-color="#00ff80"/><stop offset="0.0667" stop-color="#00ff80"/><stop offset="0.9133" stop-color="#00c49d"/><stop offset="1.0000" stop-color="#00bda0"/></linearGradient><linearGradient id="g354"><stop offset="0.0000" stop-color="#00ff80"/><stop offset="0.0733" stop-color="#00fe80"/><stop offset="0.9200" stop-color="#00c39d"/><stop offset="1.0000" stop-color="#00bda0"/></linearGradient><linearGradient id="g355"><stop offset="0.0000" stop-color="#00ff80"/><stop offset="0.0733" stop-color="#00fe80"/><stop offset="0.9200" stop-color="#00c39d"/><stop offset="1.0000" stop-color="#00bda0"/></linearGradient><linearGradient id="g356"><stop offset="0.0000" stop-color="#00ff80"/><stop offset="0.0733" stop-color="#00ff80"/><stop offset="0.9200" stop-color="#00c39d"/><stop offset="1.0000" stop-color="#00bea0"/></linearGradient><linearGradient id="g357"><stop offset="0.0000" stop-color="#00ff80"/><stop offset="0.0733" stop-color="#00ff80"/><stop offset="0.9200" stop-color="#00c39d"/><stop offset="1.0000" stop-color="#00bea0"/></linearGradient><linearGradient id="g358"><stop offset="0.0000" stop-color="#00ff80"/><stop offset="0.0800" stop-color="#00fe80"/><stop offset="0.9267" stop-color="#00c39d"/><stop offset="1.0000" stop-color="#00bea0"/></linearGradient><linearGradient id="g359"><stop offset="0.0000" stop-color="#00ff80"/><stop offset="0.0800" stop-color="#00fe80"/><stop offset="0.9267" stop-color="#00c39d"/><stop offset="1.0000" stop-color="#00bea0"/></linearGradient><linearGradient id="g360"><stop offset="0.0000" stop-color="#00ff80"/><stop offset="0.0800" stop-color="#00ff80"/><stop offset="0.9267" stop-color="#00c39d"/><stop offset="1.0000" stop-color="#00bea0"/></linearGradient><linearGradient id="g361"><stop offset="0.0000" stop-color="#00ff80"/><stop offset="0.0800" stop-color="#00ff80"/><stop offset="0.9267" stop-color="#00c39d"/><stop offset="1.0000" stop-color="#00bea0"/></linearGradient><linearGradient id="g362"><stop offset="0.0000" stop-color="#00ff80"/><stop offset="0.0867" stop-color="#00fe80"/><stop offset="0.9333" stop-color="#00c39d"/><stop offset="1.0000" stop-color="#00bea0"/></linearGradient><linearGradient id="g363"><stop offset="0.0000" stop-color="#00ff80"/><stop offset="0.0867" stop-color="#00fe80"/><stop offset="0.9333" stop-color="#00c39d"/><stop offset="1.0000" stop-color="#00bea0"/></linearGradient><linearGradient id="g364"><stop offset="0.0000" stop-color="#00ff80"/><stop offset="0.0867" stop-color="#00ff80"/><stop offset="0.9333" stop-color="#00c39d"/><stop offset="1.0000" stop-color="#00bea0"/></linearGradient><linearGradient id="g365"><stop offset="0.0000" stop-color="#00ff80"/><stop offset="0.0867" stop-color="#00ff80"/><stop offset="0.9333" stop-color="#00c39d"/><stop offset="1.0000" stop-color="#00bea0"/></linearGradient><linearGradient id="g366"><stop offset="0.0000" stop-color="#00ff80"/><stop offset="0.0933" stop-color="#00fe80"/><stop offset="0.9400" stop-color="#00c39e"/><stop offset="1.0000" stop-color="#00bfa0"/></linearGradient><linearGradient id="g367"><stop offset="0.0000" stop-color="#00ff80"/><stop offset="0.0933" stop-color="#00fe80"/><stop offset="0.9400" stop-color="#00c39d"/><stop offset="1.0000" stop-color="#00bfa0"/></linearGradient><linearGradient id="g368"><stop offset="0.0000" stop-color="#00ff80"/><stop offset="0.0933" stop-color="#00ff80"/><stop offset="0.9400" stop-color="#00c39d"/><stop offset="1.0000" stop-color="#00bfa0"/></linearGradient><linearGradient id="g369"><stop offset="0.0000" stop-color="#00ff80"/><stop offset="0.0933" stop-color="#00ff80"/><stop offset="0.9400" stop-color="#00c39d"/><stop offset="1.0000" stop-color="#00bfa0"/></linearGradient><linearGradient id="g370"><stop offset="0.0000" stop-color="#00ff80"/><stop offset="0.0933" stop-color="#00ff80"/><stop offset="0.9400" stop-color="#00c39d"/><stop offset="1.0000" stop-color="#00bfa0"/></linearGradient><linearGradient id="g371"><stop offset="0.0000" stop-color="#00ff80"/><stop offset="0.1000" stop-color="#00fe80"/><stop offset="0.9467" stop-color="#00c39e"/><stop offset="1.0000" stop-color="#00bfa0"/></linearGradient><linearGradient id="g372"><stop offset="0.0000" stop-color="#00ff80"/><stop offset="0.1000" stop-color="#00fe80"/><stop offset="0.9467" stop-color="#00c39e"/><stop offset="1.0000" stop-color="#00bf9f"/></linearGradient><linearGradient id="g373"><stop offset="0.0000" stop-color="#00ff80"/><stop offset="0.1000" stop-color="#00ff80"/><stop offset="0.9467" stop-color="#00c39d"/><stop offset="1.0000" stop-color="#00bf9f"/></linearGradient><linearGradient id="g374"><stop offset="0.0000" stop-color="#00ff80"/><stop offset="0.1000" stop-color="#00ff80"/><stop offset="0.9467" stop-color="#00c39d"/><stop offset="1.0000" stop-color="#00bf9f"/></linearGradient><linearGradient id="g375"><stop offset="0.0000" stop-color="#00ff80"/><stop offset="0.1000" stop-color="#00ff80"/><stop offset="0.9467" stop-color="#00c39d"/><stop offset="1.0000" stop-color="#00bf9f"/></linearGradient></defs>
<rect x="267.3" y="1727.50" width="1515.6" height="3.60" fill="url(#g0)"/><rect x="267.3" y="1730.50" width="1515.6" height="3.60" fill="url(#g1)"/><rect x="267.3" y="1733.50" width="1515.6" height="3.60" fill="url(#g2)"/><rect x="267.3" y="1736.50" width="1515.6" height="3.60" fill="url(#g3)"/><rect x="267.3" y="1739.50" width="1515.6" height="3.60" fill="url(#g4)"/><rect x="267.3" y="1742.50" width="1515.6" height="3.60" fill="url(#g5)"/><rect x="267.3" y="1745.50" width="1515.6" height="3.60" fill="url(#g6)"/><rect x="267.3" y="1748.50" width="1515.6" height="3.60" fill="url(#g7)"/><rect x="267.3" y="1751.50" width="1515.6" height="3.60" fill="url(#g8)"/><rect x="267.3" y="1754.50" width="1515.6" height="3.60" fill="url(#g9)"/><rect x="267.3" y="1757.50" width="1515.6" height="3.60" fill="url(#g10)"/><rect x="267.3" y="1760.50" width="1515.6" height="3.60" fill="url(#g11)"/><rect x="267.3" y="1763.50" width="1515.6" height="3.60" fill="url(#g12)"/><rect x="267.3" y="1766.50" width="1515.6" height="3.60" fill="url(#g13)"/><rect x="267.3" y="1769.50" width="1515.6" height="3.60" fill="url(#g14)"/><rect x="267.3" y="1772.50" width="1515.6" height="3.60" fill="url(#g15)"/><rect x="267.3" y="1775.50" width="1515.6" height="3.60" fill="url(#g16)"/><rect x="267.3" y="1778.50" width="1515.6" height="3.60" fill="url(#g17)"/><rect x="267.3" y="1781.50" width="1515.6" height="3.60" fill="url(#g18)"/><rect x="267.3" y="1784.50" width="1515.6" height="3.60" fill="url(#g19)"/><rect x="267.3" y="1787.50" width="1515.6" height="3.60" fill="url(#g20)"/><rect x="267.3" y="1790.50" width="1515.6" height="3.60" fill="url(#g21)"/><rect x="267.3" y="1793.50" width="1515.6" height="3.60" fill="url(#g22)"/><rect x="267.3" y="1796.50" width="1515.6" height="3.60" fill="url(#g23)"/><rect x="267.3" y="1799.50" width="1515.6" height="3.60" fill="url(#g24)"/><rect x="267.3" y="1802.50" width="1515.6" height="3.60" fill="url(#g25)"/><rect x="267.3" y="1805.50" width="1515.6" height="3.60" fill="url(#g26)"/><rect x="267.3" y="1808.50" width="1515.6" height="3.60" fill="url(#g27)"/><rect x="267.3" y="1811.50" width="1515.6" height="3.60" fill="url(#g28)"/><rect x="267.3" y="1814.50" width="1515.6" height="3.60" fill="url(#g29)"/><rect x="267.3" y="1817.50" width="1515.6" height="3.60" fill="url(#g30)"/><rect x="267.3" y="1820.50" width="1515.6" height="3.60" fill="url(#g31)"/><rect x="267.3" y="1823.50" width="1515.6" height="3.60" fill="url(#g32)"/><rect x="267.3" y="1826.50" width="1515.6" height="3.60" fill="url(#g33)"/><rect x="267.3" y="1829.50" width="1515.6" height="3.60" fill="url(#g34)"/><rect x="267.3" y="1832.50" width="1515.6" height="3.60" fill="url(#g35)"/><rect x="267.3" y="1835.50" width="1515.6" height="3.60" fill="url(#g36)"/><rect x="267.3" y="1838.50" width="1515.6" height="3.60" fill="url(#g37)"/><rect x="267.3" y="1841.50" width="1515.6" height="3.60" fill="url(#g38)"/><rect x="267.3" y="1844.50" width="1515.6" height="3.60" fill="url(#g39)"/><rect x="267.3" y="1847.50" width="1515.6" height="3.60" fill="url(#g40)"/><rect x="267.3" y="1850.50" width="1515.6" height="3.60" fill="url(#g41)"/><rect x="267.3" y="1853.50" width="1515.6" height="3.60" fill="url(#g42)"/><rect x="267.3" y="1856.50" width="1515.6" height="3.60" fill="url(#g43)"/><rect x="267.3" y="1859.50" width="1515.6" height="3.60" fill="url(#g44)"/><rect x="267.3" y="1862.50" width="1515.6" height="3.60" fill="url(#g45)"/><rect x="267.3" y="1865.50" width="1515.6" height="3.60" fill="url(#g46)"/><rect x="267.3" y="1868.50" width="1515.6" height="3.60" fill="url(#g47)"/><rect x="267.3" y="1871.50" width="1515.6" height="3.60" fill="url(#g48)"/><rect x="267.3" y="1874.50" width="1515.6" height="3.60" fill="url(#g49)"/><rect x="267.3" y="1877.50" width="1515.6" height="3.60" fill="url(#g50)"/><rect x="267.3" y="1880.50" width="1515.6" height="3.60" fill="url(#g51)"/><rect x="267.3" y="1883.50" width="1515.6" height="3.60" fill="url(#g52)"/><rect x="267.3" y="1886.50" width="1515.6" height="3.60" fill="url(#g53)"/><rect x="267.3" y="1889.50" width="1515.6" height="3.60" fill="url(#g54)"/><rect x="267.3" y="1892.50" width="1515.6" height="3.60" fill="url(#g55)"/><rect x="267.3" y="1895.50" width="1515.6" height="3.60" fill="url(#g56)"/><rect x="267.3" y="1898.50" width="1515.6" height="3.60" fill="url(#g57)"/><rect x="267.3" y="1901.50" width="1515.6" height="3.60" fill="url(#g58)"/><rect x="267.3" y="1904.50" width="1515.6" height="3.60" fill="url(#g59)"/><rect x="267.3" y="1907.50" width="1515.6" height="3.60" fill="url(#g60)"/><rect x="267.3" y="1910.50" width="1515.6" height="3.60" fill="url(#g61)"/><rect x="267.3" y="1913.50" width="1515.6" height="3.60" fill="url(#g62)"/><rect x="267.3" y="1916.50" width="1515.6" height="3.60" fill="url(#g63)"/><rect x="267.3" y="1919.50" width="1515.6" height="3.60" fill="url(#g64)"/><rect x="267.3" y="1922.50" width="1515.6" height="3.60" fill="url(#g65)"/><rect x="267.3" y="1925.50" width="1515.6" height="3.60" fill="url(#g66)"/><rect x="267.3" y="1928.50" width="1515.6" height="3.60" fill="url(#g67)"/><rect x="267.3" y="1931.50" width="1515.6" height="3.60" fill="url(#g68)"/><rect x="267.3" y="1934.50" width="1515.6" height="3.60" fill="url(#g69)"/><rect x="267.3" y="1937.50" width="1515.6" height="3.60" fill="url(#g70)"/><rect x="267.3" y="1940.50" width="1515.6" height="3.60" fill="url(#g71)"/><rect x="267.3" y="1943.50" width="1515.6" height="3.60" fill="url(#g72)"/><rect x="267.3" y="1946.50" width="1515.6" height="3.60" fill="url(#g73)"/><rect x="267.3" y="1949.50" width="1515.6" height="3.60" fill="url(#g74)"/><rect x="267.3" y="1952.50" width="1515.6" height="3.60" fill="url(#g75)"/><rect x="267.3" y="1955.50" width="1515.6" height="3.60" fill="url(#g76)"/><rect x="267.3" y="1958.50" width="1515.6" height="3.60" fill="url(#g77)"/><rect x="267.3" y="1961.50" width="1515.6" height="3.60" fill="url(#g78)"/><rect x="267.3" y="1964.50" width="1515.6" height="3.60" fill="url(#g79)"/><rect x="267.3" y="1967.50" width="1515.6" height="3.60" fill="url(#g80)"/><rect x="267.3" y="1970.50" width="1515.6" height="3.60" fill="url(#g81)"/><rect x="267.3" y="1973.50" width="1515.6" height="3.60" fill="url(#g82)"/><rect x="267.3" y="1976.50" width="1515.6" height="3.60" fill="url(#g83)"/><rect x="267.3" y="1979.50" width="1515.6" height="3.60" fill="url(#g84)"/><rect x="267.3" y="1982.50" width="1515.6" height="3.60" fill="url(#g85)"/><rect x="267.3" y="1985.50" width="1515.6" height="3.60" fill="url(#g86)"/><rect x="267.3" y="1988.50" width="1515.6" height="3.60" fill="url(#g87)"/><rect x="267.3" y="1991.50" width="1515.6" height="3.60" fill="url(#g88)"/><rect x="267.3" y="1994.50" width="1515.6" height="3.60" fill="url(#g89)"/><rect x="267.3" y="1997.50" width="1515.6" height="3.60" fill="url(#g90)"/><rect x="267.3" y="2000.50" width="1515.6" height="3.60" fill="url(#g91)"/><rect x="267.3" y="2003.50" width="1515.6" height="3.60" fill="url(#g92)"/><rect x="267.3" y="2006.50" width="1515.6" height="3.60" fill="url(#g93)"/><rect x="267.3" y="2009.50" width="1515.6" height="3.60" fill="url(#g94)"/><rect x="267.3" y="2012.50" width="1515.6" height="3.60" fill="url(#g95)"/><rect x="267.3" y="2015.50" width="1515.6" height="3.60" fill="url(#g96)"/><rect x="267.3" y="2018.50" width="1515.6" height="3.60" fill="url(#g97)"/><rect x="267.3" y="2021.50" width="1515.6" height="3.60" fill="url(#g98)"/><rect x="267.3" y="2024.50" width="1515.6" height="3.60" fill="url(#g99)"/><rect x="267.3" y="2027.50" width="1515.6" height="3.60" fill="url(#g100)"/><rect x="267.3" y="2030.50" width="1515.6" height="3.60" fill="url(#g101)"/><rect x="267.3" y="2033.50" width="1515.6" height="3.60" fill="url(#g102)"/><rect x="267.3" y="2036.50" width="1515.6" height="3.60" fill="url(#g103)"/><rect x="267.3" y="2039.50" width="1515.6" height="3.60" fill="url(#g104)"/><rect x="267.3" y="2042.50" width="1515.6" height="3.60" fill="url(#g105)"/><rect x="267.3" y="2045.50" width="1515.6" height="3.60" fill="url(#g106)"/><rect x="267.3" y="2048.50" width="1515.6" height="3.60" fill="url(#g107)"/><rect x="267.3" y="2051.50" width="1515.6" height="3.60" fill="url(#g108)"/><rect x="267.3" y="2054.50" width="1515.6" height="3.60" fill="url(#g109)"/><rect x="267.3" y="2057.50" width="1515.6" height="3.60" fill="url(#g110)"/><rect x="267.3" y="2060.50" width="1515.6" height="3.60" fill="url(#g111)"/><rect x="267.3" y="2063.50" width="1515.6" height="3.60" fill="url(#g112)"/><rect x="267.3" y="2066.50" width="1515.6" height="3.60" fill="url(#g113)"/><rect x="267.3" y="2069.50" width="1515.6" height="3.60" fill="url(#g114)"/><rect x="267.3" y="2072.50" width="1515.6" height="3.60" fill="url(#g115)"/><rect x="267.3" y="2075.50" width="1515.6" height="3.60" fill="url(#g116)"/><rect x="267.3" y="2078.50" width="1515.6" height="3.60" fill="url(#g117)"/><rect x="267.3" y="2081.50" width="1515.6" height="3.60" fill="url(#g118)"/><rect x="267.3" y="2084.50" width="1515.6" height="3.60" fill="url(#g119)"/><rect x="267.3" y="2087.50" width="1515.6" height="3.60" fill="url(#g120)"/><rect x="267.3" y="2090.50" width="1515.6" height="3.60" fill="url(#g121)"/><rect x="267.3" y="2093.50" width="1515.6" height="3.60" fill="url(#g122)"/><rect x="267.3" y="2096.50" width="1515.6" height="3.60" fill="url(#g123)"/><rect x="267.3" y="2099.50" width="1515.6" height="3.60" fill="url(#g124)"/><rect x="267.3" y="2102.50" width="1515.6" height="3.60" fill="url(#g125)"/><rect x="267.3" y="2105.50" width="1515.6" height="3.60" fill="url(#g126)"/><rect x="267.3" y="2108.50" width="1515.6" height="3.60" fill="url(#g127)"/><rect x="267.3" y="2111.50" width="1515.6" height="3.60" fill="url(#g128)"/><rect x="267.3" y="2114.50" width="1515.6" height="3.60" fill="url(#g129)"/><rect x="267.3" y="2117.50" width="1515.6" height="3.60" fill="url(#g130)"/><rect x="267.3" y="2120.50" width="1515.6" height="3.60" fill="url(#g131)"/><rect x="267.3" y="2123.50" width="1515.6" height="3.60" fill="url(#g132)"/><rect x="267.3" y="2126.50" width="1515.6" height="3.60" fill="url(#g133)"/><rect x="267.3" y="2129.50" width="1515.6" height="3.60" fill="url(#g134)"/><rect x="267.3" y="2132.50" width="1515.6" height="3.60" fill="url(#g135)"/><rect x="267.3" y="2135.50" width="1515.6" height="3.60" fill="url(#g136)"/><rect x="267.3" y="2138.50" width="1515.6" height="3.60" fill="url(#g137)"/><rect x="267.3" y="2141.50" width="1515.6" height="3.60" fill="url(#g138)"/><rect x="267.3" y="2144.50" width="1515.6" height="3.60" fill="url(#g139)"/><rect x="267.3" y="2147.50" width="1515.6" height="3.60" fill="url(#g140)"/><rect x="267.3" y="2150.50" width="1515.6" height="3.60" fill="url(#g141)"/><rect x="267.3" y="2153.50" width="1515.6" height="3.60" fill="url(#g142)"/><rect x="267.3" y="2156.50" width="1515.6" height="3.60" fill="url(#g143)"/><rect x="267.3" y="2159.50" width="1515.6" height="3.60" fill="url(#g144)"/><rect x="267.3" y="2162.50" width="1515.6" height="3.60" fill="url(#g145)"/><rect x="267.3" y="2165.50" width="1515.6" height="3.60" fill="url(#g146)"/><rect x="267.3" y="2168.50" width="1515.6" height="3.60" fill="url(#g147)"/><rect x="267.3" y="2171.50" width="1515.6" height="3.60" fill="url(#g148)"/><rect x="267.3" y="2174.50" width="1515.6" height="3.60" fill="url(#g149)"/><rect x="267.3" y="2177.50" width="1515.6" height="3.60" fill="url(#g150)"/><rect x="267.3" y="2180.50" width="1515.6" height="3.60" fill="url(#g151)"/><rect x="267.3" y="2183.50" width="1515.6" height="3.60" fill="url(#g152)"/><rect x="267.3" y="2186.50" width="1515.6" height="3.60" fill="url(#g153)"/><rect x="267.3" y="2189.50" width="1515.6" height="3.60" fill="url(#g154)"/><rect x="267.3" y="2192.50" width="1515.6" height="3.60" fill="url(#g155)"/><rect x="267.3" y="2195.50" width="1515.6" height="3.60" fill="url(#g156)"/><rect x="267.3" y="2198.50" width="1515.6" height="3.60" fill="url(#g157)"/><rect x="267.3" y="2201.50" width="1515.6" height="3.60" fill="url(#g158)"/><rect x="267.3" y="2204.50" width="1515.6" height="3.60" fill="url(#g159)"/><rect x="267.3" y="2207.50" width="1515.6" height="3.60" fill="url(#g160)"/><rect x="267.3" y="2210.50" width="1515.6" height="3.60" fill="url(#g161)"/><rect x="267.3" y="2213.50" width="1515.6" height="3.60" fill="url(#g162)"/><rect x="267.3" y="2216.50" width="1515.6" height="3.60" fill="url(#g163)"/><rect x="267.3" y="2219.50" width="1515.6" height="3.60" fill="url(#g164)"/><rect x="267.3" y="2222.50" width="1515.6" height="3.60" fill="url(#g165)"/><rect x="267.3" y="2225.50" width="1515.6" height="3.60" fill="url(#g166)"/><rect x="267.3" y="2228.50" width="1515.6" height="3.60" fill="url(#g167)"/><rect x="267.3" y="2231.50" width="1515.6" height="3.60" fill="url(#g168)"/><rect x="267.3" y="2234.50" width="1515.6" height="3.60" fill="url(#g169)"/><rect x="267.3" y="2237.50" width="1515.6" height="3.60" fill="url(#g170)"/><rect x="267.3" y="2240.50" width="1515.6" height="3.60" fill="url(#g171)"/><rect x="267.3" y="2243.50" width="1515.6" height="3.60" fill="url(#g172)"/><rect x="267.3" y="2246.50" width="1515.6" height="3.60" fill="url(#g173)"/><rect x="267.3" y="2249.50" width="1515.6" height="3.60" fill="url(#g174)"/><rect x="267.3" y="2252.50" width="1515.6" height="3.60" fill="url(#g175)"/><rect x="267.3" y="2255.50" width="1515.6" height="3.60" fill="url(#g176)"/><rect x="267.3" y="2258.50" width="1515.6" height="3.60" fill="url(#g177)"/><rect x="267.3" y="2261.50" width="1515.6" height="3.60" fill="url(#g178)"/><rect x="267.3" y="2264.50" width="1515.6" height="3.60" fill="url(#g179)"/><rect x="267.3" y="2267.50" width="1515.6" height="3.60" fill="url(#g180)"/><rect x="267.3" y="2270.50" width="1515.6" height="3.60" fill="url(#g181)"/><rect x="267.3" y="2273.50" width="1515.6" height="3.60" fill="url(#g182)"/><rect x="267.3" y="2276.50" width="1515.6" height="3.60" fill="url(#g183)"/><rect x="267.3" y="2279.50" width="1515.6" height="3.60" fill="url(#g184)"/><rect x="267.3" y="2282.50" width="1515.6" height="3.60" fill="url(#g185)"/><rect x="267.3" y="2285.50" width="1515.6" height="3.60" fill="url(#g186)"/><rect x="267.3" y="2288.50" width="1515.6" height="3.60" fill="url(#g187)"/><rect x="267.3" y="2291.50" width="1515.6" height="3.60" fill="url(#g188)"/><rect x="267.3" y="2294.50" width="1515.6" height="3.60" fill="url(#g189)"/><rect x="267.3" y="2297.50" width="1515.6" height="3.60" fill="url(#g190)"/><rect x="267.3" y="2300.50" width="1515.6" height="3.60" fill="url(#g191)"/><rect x="267.3" y="2303.50" width="1515.6" height="3.60" fill="url(#g192)"/><rect x="267.3" y="2306.50" width="1515.6" height="3.60" fill="url(#g193)"/><rect x="267.3" y="2309.50" width="1515.6" height="3.60" fill="url(#g194)"/><rect x="267.3" y="2312.50" width="1515.6" height="3.60" fill="url(#g195)"/><rect x="267.3" y="2315.50" width="1515.6" height="3.60" fill="url(#g196)"/><rect x="267.3" y="2318.50" width="1515.6" height="3.60" fill="url(#g197)"/><rect x="267.3" y="2321.50" width="1515.6" height="3.60" fill="url(#g198)"/><rect x="267.3" y="2324.50" width="1515.6" height="3.60" fill="url(#g199)"/><rect x="267.3" y="2327.50" width="1515.6" height="3.60" fill="url(#g200)"/><rect x="267.3" y="2330.50" width="1515.6" height="3.60" fill="url(#g201)"/><rect x="267.3" y="2333.50" width="1515.6" height="3.60" fill="url(#g202)"/><rect x="267.3" y="2336.50" width="1515.6" height="3.60" fill="url(#g203)"/><rect x="267.3" y="2339.50" width="1515.6" height="3.60" fill="url(#g204)"/><rect x="267.3" y="2342.50" width="1515.6" height="3.60" fill="url(#g205)"/><rect x="267.3" y="2345.50" width="1515.6" height="3.60" fill="url(#g206)"/><rect x="267.3" y="2348.50" width="1515.6" height="3.60" fill="url(#g207)"/><rect x="267.3" y="2351.50" width="1515.6" height="3.60" fill="url(#g208)"/><rect x="267.3" y="2354.50" width="1515.6" height="3.60" fill="url(#g209)"/><rect x="267.3" y="2357.50" width="1515.6" height="3.60" fill="url(#g210)"/><rect x="267.3" y="2360.50" width="1515.6" height="3.60" fill="url(#g211)"/><rect x="267.3" y="2363.50" width="1515.6" height="3.60" fill="url(#g212)"/><rect x="267.3" y="2366.50" width="1515.6" height="3.60" fill="url(#g213)"/><rect x="267.3" y="2369.50" width="1515.6" height="3.60" fill="url(#g214)"/><rect x="267.3" y="2372.50" width="1515.6" height="3.60" fill="url(#g215)"/><rect x="267.3" y="2375.50" width="1515.6" height="3.60" fill="url(#g216)"/><rect x="267.3" y="2378.50" width="1515.6" height="3.60" fill="url(#g217)"/><rect x="267.3" y="2381.50" width="1515.6" height="3.60" fill="url(#g218)"/><rect x="267.3" y="2384.50" width="1515.6" height="3.60" fill="url(#g219)"/><rect x="267.3" y="2387.50" width="1515.6" height="3.60" fill="url(#g220)"/><rect x="267.3" y="2390.50" width="1515.6" height="3.60" fill="url(#g221)"/><rect x="267.3" y="2393.50" width="1515.6" height="3.60" fill="url(#g222)"/><rect x="267.3" y="2396.50" width="1515.6" height="3.60" fill="url(#g223)"/><rect x="267.3" y="2399.50" width="1515.6" height="3.60" fill="url(#g224)"/><rect x="267.3" y="2402.50" width="1515.6" height="3.60" fill="url(#g225)"/><rect x="267.3" y="2405.50" width="1515.6" height="3.60" fill="url(#g226)"/><rect x="267.3" y="2408.50" width="1515.6" height="3.60" fill="url(#g227)"/><rect x="267.3" y="2411.50" width="1515.6" height="3.60" fill="url(#g228)"/><rect x="267.3" y="2414.50" width="1515.6" height="3.60" fill="url(#g229)"/><rect x="267.3" y="2417.50" width="1515.6" height="3.60" fill="url(#g230)"/><rect x="267.3" y="2420.50" width="1515.6" height="3.60" fill="url(#g231)"/><rect x="267.3" y="2423.50" width="1515.6" height="3.60" fill="url(#g232)"/><rect x="267.3" y="2426.50" width="1515.6" height="3.60" fill="url(#g233)"/><rect x="267.3" y="2429.50" width="1515.6" height="3.60" fill="url(#g234)"/><rect x="267.3" y="2432.50" width="1515.6" height="3.60" fill="url(#g235)"/><rect x="267.3" y="2435.50" width="1515.6" height="3.60" fill="url(#g236)"/><rect x="267.3" y="2438.50" width="1515.6" height="3.60" fill="url(#g237)"/><rect x="267.3" y="2441.50" width="1515.6" height="3.60" fill="url(#g238)"/><rect x="267.3" y="2444.50" width="1515.6" height="3.60" fill="url(#g239)"/><rect x="267.3" y="2447.50" width="1515.6" height="3.60" fill="url(#g240)"/><rect x="267.3" y="2450.50" width="1515.6" height="3.60" fill="url(#g241)"/><rect x="267.3" y="2453.50" width="1515.6" height="3.60" fill="url(#g242)"/><rect x="267.3" y="2456.50" width="1515.6" height="3.60" fill="url(#g243)"/><rect x="267.3" y="2459.50" width="1515.6" height="3.60" fill="url(#g244)"/><rect x="267.3" y="2462.50" width="1515.6" height="3.60" fill="url(#g245)"/><rect x="267.3" y="2465.50" width="1515.6" height="3.60" fill="url(#g246)"/><rect x="267.3" y="2468.50" width="1515.6" height="3.60" fill="url(#g247)"/><rect x="267.3" y="2471.50" width="1515.6" height="3.60" fill="url(#g248)"/><rect x="267.3" y="2474.50" width="1515.6" height="3.60" fill="url(#g249)"/><rect x="267.3" y="2477.50" width="1515.6" height="3.60" fill="url(#g250)"/><rect x="267.3" y="2480.50" width="1515.6" height="3.60" fill="url(#g251)"/><rect x="267.3" y="2483.50" width="1515.6" height="3.60" fill="url(#g252)"/><rect x="267.3" y="2486.50" width="1515.6" height="3.60" fill="url(#g253)"/><rect x="267.3" y="2489.50" width="1515.6" height="3.60" fill="url(#g254)"/><rect x="267.3" y="2492.50" width="1515.6" height="3.60" fill="url(#g255)"/><rect x="267.3" y="2495.50" width="1515.6" height="3.60" fill="url(#g256)"/><rect x="267.3" y="2498.50" width="1515.6" height="3.60" fill="url(#g257)"/><rect x="267.3" y="2501.50" width="1515.6" height="3.60" fill="url(#g258)"/><rect x="267.3" y="2504.50" width="1515.6" height="3.60" fill="url(#g259)"/><rect x="267.3" y="2507.50" width="1515.6" height="3.60" fill="url(#g260)"/><rect x="267.3" y="2510.50" width="1515.6" height="3.60" fill="url(#g261)"/><rect x="267.3" y="2513.50" width="1515.6" height="3.60" fill="url(#g262)"/><rect x="267.3" y="2516.50" width="1515.6" height="3.60" fill="url(#g263)"/><rect x="267.3" y="2519.50" width="1515.6" height="3.60" fill="url(#g264)"/><rect x="267.3" y="2522.50" width="1515.6" height="3.60" fill="url(#g265)"/><rect x="267.3" y="2525.50" width="1515.6" height="3.60" fill="url(#g266)"/><rect x="267.3" y="2528.50" width="1515.6" height="3.60" fill="url(#g267)"/><rect x="267.3" y="2531.50" width="1515.6" height="3.60" fill="url(#g268)"/><rect x="267.3" y="2534.50" width="1515.6" height="3.60" fill="url(#g269)"/><rect x="267.3" y="2537.50" width="1515.6" height="3.60" fill="url(#g270)"/><rect x="267.3" y="2540.50" width="1515.6" height="3.60" fill="url(#g271)"/><rect x="267.3" y="2543.50" width="1515.6" height="3.60" fill="url(#g272)"/><rect x="267.3" y="2546.50" width="1515.6" height="3.60" fill="url(#g273)"/><rect x="267.3" y="2549.50" width="1515.6" height="3.60" fill="url(#g274)"/><rect x="267.3" y="2552.50" width="1515.6" height="3.60" fill="url(#g275)"/><rect x="267.3" y="2555.50" width="1515.6" height="3.60" fill="url(#g276)"/><rect x="267.3" y="2558.50" width="1515.6" height="3.60" fill="url(#g277)"/><rect x="267.3" y="2561.50" width="1515.6" height="3.60" fill="url(#g278)"/><rect x="267.3" y="2564.50" width="1515.6" height="3.60" fill="url(#g279)"/><rect x="267.3" y="2567.50" width="1515.6" height="3.60" fill="url(#g280)"/><rect x="267.3" y="2570.50" width="1515.6" height="3.60" fill="url(#g281)"/><rect x="267.3" y="2573.50" width="1515.6" height="3.60" fill="url(#g282)"/><rect x="267.3" y="2576.50" width="1515.6" height="3.60" fill="url(#g283)"/><rect x="267.3" y="2579.50" width="1515.6" height="3.60" fill="url(#g284)"/><rect x="267.3" y="2582.50" width="1515.6" height="3.60" fill="url(#g285)"/><rect x="267.3" y="2585.50" width="1515.6" height="3.60" fill="url(#g286)"/><rect x="267.3" y="2588.50" width="1515.6" height="3.60" fill="url(#g287)"/><rect x="267.3" y="2591.50" width="1515.6" height="3.60" fill="url(#g288)"/><rect x="267.3" y="2594.50" width="1515.6" height="3.60" fill="url(#g289)"/><rect x="267.3" y="2597.50" width="1515.6" height="3.60" fill="url(#g290)"/><rect x="267.3" y="2600.50" width="1515.6" height="3.60" fill="url(#g291)"/><rect x="267.3" y="2603.50" width="1515.6" height="3.60" fill="url(#g292)"/><rect x="267.3" y="2606.50" width="1515.6" height="3.60" fill="url(#g293)"/><rect x="267.3" y="2609.50" width="1515.6" height="3.60" fill="url(#g294)"/><rect x="267.3" y="2612.50" width="1515.6" height="3.60" fill="url(#g295)"/><rect x="267.3" y="2615.50" width="1515.6" height="3.60" fill="url(#g296)"/><rect x="267.3" y="2618.50" width="1515.6" height="3.60" fill="url(#g297)"/><rect x="267.3" y="2621.50" width="1515.6" height="3.60" fill="url(#g298)"/><rect x="267.3" y="2624.50" width="1515.6" height="3.60" fill="url(#g299)"/><rect x="267.3" y="2627.50" width="1515.6" height="3.60" fill="url(#g300)"/><rect x="267.3" y="2630.50" width="1515.6" height="3.60" fill="url(#g301)"/><rect x="267.3" y="2633.50" width="1515.6" height="3.60" fill="url(#g302)"/><rect x="267.3" y="2636.50" width="1515.6" height="3.60" fill="url(#g303)"/><rect x="267.3" y="2639.50" width="1515.6" height="3.60" fill="url(#g304)"/><rect x="267.3" y="2642.50" width="1515.6" height="3.60" fill="url(#g305)"/><rect x="267.3" y="2645.50" width="1515.6" height="3.60" fill="url(#g306)"/><rect x="267.3" y="2648.50" width="1515.6" height="3.60" fill="url(#g307)"/><rect x="267.3" y="2651.50" width="1515.6" height="3.60" fill="url(#g308)"/><rect x="267.3" y="2654.50" width="1515.6" height="3.60" fill="url(#g309)"/><rect x="267.3" y="2657.50" width="1515.6" height="3.60" fill="url(#g310)"/><rect x="267.3" y="2660.50" width="1515.6" height="3.60" fill="url(#g311)"/><rect x="267.3" y="2663.50" width="1515.6" height="3.60" fill="url(#g312)"/><rect x="267.3" y="2666.50" width="1515.6" height="3.60" fill="url(#g313)"/><rect x="267.3" y="2669.50" width="1515.6" height="3.60" fill="url(#g314)"/><rect x="267.3" y="2672.50" width="1515.6" height="3.60" fill="url(#g315)"/><rect x="267.3" y="2675.50" width="1515.6" height="3.60" fill="url(#g316)"/><rect x="267.3" y="2678.50" width="1515.6" height="3.60" fill="url(#g317)"/><rect x="267.3" y="2681.50" width="1515.6" height="3.60" fill="url(#g318)"/><rect x="267.3" y="2684.50" width="1515.6" height="3.60" fill="url(#g319)"/><rect x="267.3" y="2687.50" width="1515.6" height="3.60" fill="url(#g320)"/><rect x="267.3" y="2690.50" width="1515.6" height="3.60" fill="url(#g321)"/><rect x="267.3" y="2693.50" width="1515.6" height="3.60" fill="url(#g322)"/><rect x="267.3" y="2696.50" width="1515.6" height="3.60" fill="url(#g323)"/><rect x="267.3" y="2699.50" width="1515.6" height="3.60" fill="url(#g324)"/><rect x="267.3" y="2702.50" width="1515.6" height="3.60" fill="url(#g325)"/><rect x="267.3" y="2705.50" width="1515.6" height="3.60" fill="url(#g326)"/><rect x="267.3" y="2708.50" width="1515.6" height="3.60" fill="url(#g327)"/><rect x="267.3" y="2711.50" width="1515.6" height="3.60" fill="url(#g328)"/><rect x="267.3" y="2714.50" width="1515.6" height="3.60" fill="url(#g329)"/><rect x="267.3" y="2717.50" width="1515.6" height="3.60" fill="url(#g330)"/><rect x="267.3" y="2720.50" width="1515.6" height="3.60" fill="url(#g331)"/><rect x="267.3" y="2723.50" width="1515.6" height="3.60" fill="url(#g332)"/><rect x="267.3" y="2726.50" width="1515.6" height="3.60" fill="url(#g333)"/><rect x="267.3" y="2729.50" width="1515.6" height="3.60" fill="url(#g334)"/><rect x="267.3" y="2732.50" width="1515.6" height="3.60" fill="url(#g335)"/><rect x="267.3" y="2735.50" width="1515.6" height="3.60" fill="url(#g336)"/><rect x="267.3" y="2738.50" width="1515.6" height="3.60" fill="url(#g337)"/><rect x="267.3" y="2741.50" width="1515.6" height="3.60" fill="url(#g338)"/><rect x="267.3" y="2744.50" width="1515.6" height="3.60" fill="url(#g339)"/><rect x="267.3" y="2747.50" width="1515.6" height="3.60" fill="url(#g340)"/><rect x="267.3" y="2750.50" width="1515.6" height="3.60" fill="url(#g341)"/><rect x="267.3" y="2753.50" width="1515.6" height="3.60" fill="url(#g342)"/><rect x="267.3" y="2756.50" width="1515.6" height="3.60" fill="url(#g343)"/><rect x="267.3" y="2759.50" width="1515.6" height="3.60" fill="url(#g344)"/><rect x="267.3" y="2762.50" width="1515.6" height="3.60" fill="url(#g345)"/><rect x="267.3" y="2765.50" width="1515.6" height="3.60" fill="url(#g346)"/><rect x="267.3" y="2768.50" width="1515.6" height="3.60" fill="url(#g347)"/><rect x="267.3" y="2771.50" width="1515.6" height="3.60" fill="url(#g348)"/><rect x="267.3" y="2774.50" width="1515.6" height="3.60" fill="url(#g349)"/><rect x="267.3" y="2777.50" width="1515.6" height="3.60" fill="url(#g350)"/><rect x="267.3" y="2780.50" width="1515.6" height="3.60" fill="url(#g351)"/><rect x="267.3" y="2783.50" width="1515.6" height="3.60" fill="url(#g352)"/><rect x="267.3" y="2786.50" width="1515.6" height="3.60" fill="url(#g353)"/><rect x="267.3" y="2789.50" width="1515.6" height="3.60" fill="url(#g354)"/><rect x="267.3" y="2792.50" width="1515.6" height="3.60" fill="url(#g355)"/><rect x="267.3" y="2795.50" width="1515.6" height="3.60" fill="url(#g356)"/><rect x="267.3" y="2798.50" width="1515.6" height="3.60" fill="url(#g357)"/><rect x="267.3" y="2801.50" width="1515.6" height="3.60" fill="url(#g358)"/><rect x="267.3" y="2804.50" width="1515.6" height="3.60" fill="url(#g359)"/><rect x="267.3" y="2807.50" width="1515.6" height="3.60" fill="url(#g360)"/><rect x="267.3" y="2810.50" width="1515.6" height="3.60" fill="url(#g361)"/><rect x="267.3" y="2813.50" width="1515.6" height="3.60" fill="url(#g362)"/><rect x="267.3" y="2816.50" width="1515.6" height="3.60" fill="url(#g363)"/><rect x="267.3" y="2819.50" width="1515.6" height="3.60" fill="url(#g364)"/><rect x="267.3" y="2822.50" width="1515.6" height="3.60" fill="url(#g365)"/><rect x="267.3" y="2825.50" width="1515.6" height="3.60" fill="url(#g366)"/><rect x="267.3" y="2828.50" width="1515.6" height="3.60" fill="url(#g367)"/><rect x="267.3" y="2831.50" width="1515.6" height="3.60" fill="url(#g368)"/><rect x="267.3" y="2834.50" width="1515.6" height="3.60" fill="url(#g369)"/><rect x="267.3" y="2837.50" width="1515.6" height="3.60" fill="url(#g370)"/><rect x="267.3" y="2840.50" width="1515.6" height="3.60" fill="url(#g371)"/><rect x="267.3" y="2843.50" width="1515.6" height="3.60" fill="url(#g372)"/><rect x="267.3" y="2846.50" width="1515.6" height="3.60" fill="url(#g373)"/><rect x="267.3" y="2849.50" width="1515.6" height="3.60" fill="url(#g374)"/><rect x="267.3" y="2852.50" width="1515.6" height="1.00" fill="url(#g375)"/>
<g fill="none" stroke="#050505" stroke-width="3.7">
<ellipse cx="297.3" cy="2671.5" rx="7.2" ry="6.3"/>
<ellipse cx="334.0" cy="2714.0" rx="7.2" ry="6.3"/>
<ellipse cx="301.0" cy="2770.5" rx="7.2" ry="6.3"/>
<ellipse cx="376.6" cy="2787.4" rx="7.2" ry="6.3"/>
<ellipse cx="570.6" cy="2658.3" rx="7.2" ry="6.3"/>
<ellipse cx="620.6" cy="2609.3" rx="7.2" ry="6.3"/>
<ellipse cx="810.4" cy="2610.0" rx="7.2" ry="6.3"/>
<ellipse cx="903.7" cy="2601.7" rx="7.2" ry="6.3"/>
<ellipse cx="1269.6" cy="1980.5" rx="7.2" ry="6.3"/>
<ellipse cx="1278.0" cy="2080.0" rx="7.2" ry="6.3"/>
<ellipse cx="1068.0" cy="2099.0" rx="7.2" ry="6.3"/>
<ellipse cx="1215.0" cy="2137.6" rx="7.2" ry="6.3"/>
<ellipse cx="1224.0" cy="2189.0" rx="7.2" ry="6.3"/>
<ellipse cx="1210.0" cy="2206.0" rx="7.2" ry="6.3"/>
<ellipse cx="1202.0" cy="2234.0" rx="7.2" ry="6.3"/>
<ellipse cx="1434.0" cy="2061.6" rx="7.2" ry="6.3"/>
<ellipse cx="1514.0" cy="2067.6" rx="7.2" ry="6.3"/>
<ellipse cx="1514.0" cy="2090.0" rx="7.2" ry="6.3"/>
<ellipse cx="1366.4" cy="2121.0" rx="7.2" ry="6.3"/>
<ellipse cx="1497.6" cy="2146.4" rx="7.2" ry="6.3"/>
<ellipse cx="1358.4" cy="2161.6" rx="7.2" ry="6.3"/>
<ellipse cx="1409.0" cy="2162.0" rx="7.2" ry="6.3"/>
<ellipse cx="1455.0" cy="2185.0" rx="7.2" ry="6.3"/>
<ellipse cx="1446.0" cy="2207.0" rx="7.2" ry="6.3"/>
<ellipse cx="1457.0" cy="2205.0" rx="7.2" ry="6.3"/>
<ellipse cx="1345.6" cy="2201.6" rx="7.2" ry="6.3"/>
<ellipse cx="1299.0" cy="2216.0" rx="7.2" ry="6.3"/>
<ellipse cx="1375.0" cy="2225.0" rx="7.2" ry="6.3"/>
<ellipse cx="1421.6" cy="2232.0" rx="7.2" ry="6.3"/>
<ellipse cx="1539.0" cy="2206.0" rx="7.2" ry="6.3"/>
<ellipse cx="1493.0" cy="2238.0" rx="7.2" ry="6.3"/>
<ellipse cx="1507.0" cy="2236.0" rx="7.2" ry="6.3"/>
<ellipse cx="1623.5" cy="2035.0" rx="7.2" ry="6.3"/>
<ellipse cx="1579.5" cy="2112.5" rx="7.2" ry="6.3"/>
<ellipse cx="1615.0" cy="2129.6" rx="7.2" ry="6.3"/>
<ellipse cx="1092.6" cy="2266.0" rx="7.2" ry="6.3"/>
<ellipse cx="1240.0" cy="2282.0" rx="7.2" ry="6.3"/>
<ellipse cx="1038.0" cy="2293.6" rx="7.2" ry="6.3"/>
<ellipse cx="1008.0" cy="2305.0" rx="7.2" ry="6.3"/>
<ellipse cx="1042.0" cy="2314.0" rx="7.2" ry="6.3"/>
<ellipse cx="1084.0" cy="2319.0" rx="7.2" ry="6.3"/>
<ellipse cx="1130.4" cy="2311.6" rx="7.2" ry="6.3"/>
<ellipse cx="1143.0" cy="2329.0" rx="7.2" ry="6.3"/>
<ellipse cx="1168.6" cy="2317.0" rx="7.2" ry="6.3"/>
<ellipse cx="1198.4" cy="2329.0" rx="7.2" ry="6.3"/>
<ellipse cx="1189.6" cy="2345.0" rx="7.2" ry="6.3"/>
<ellipse cx="1189.6" cy="2358.0" rx="7.2" ry="6.3"/>
<ellipse cx="1228.0" cy="2356.0" rx="7.2" ry="6.3"/>
<ellipse cx="1232.0" cy="2360.0" rx="7.2" ry="6.3"/>
<ellipse cx="1276.0" cy="2378.0" rx="7.2" ry="6.3"/>
<ellipse cx="1269.0" cy="2397.0" rx="7.2" ry="6.3"/>
<ellipse cx="1198.0" cy="2419.0" rx="7.2" ry="6.3"/>
<ellipse cx="1198.0" cy="2435.0" rx="7.2" ry="6.3"/>
<ellipse cx="1216.0" cy="2433.0" rx="7.2" ry="6.3"/>
<ellipse cx="1086.4" cy="2435.6" rx="7.2" ry="6.3"/>
<ellipse cx="1227.6" cy="2462.4" rx="7.2" ry="6.3"/>
<ellipse cx="1139.0" cy="2488.4" rx="7.2" ry="6.3"/>
<ellipse cx="1262.0" cy="2502.0" rx="7.2" ry="6.3"/>
<ellipse cx="1303.0" cy="2250.0" rx="7.2" ry="6.3"/>
<ellipse cx="1425.6" cy="2258.4" rx="7.2" ry="6.3"/>
<ellipse cx="1400.0" cy="2293.0" rx="7.2" ry="6.3"/>
<ellipse cx="1436.0" cy="2302.0" rx="7.2" ry="6.3"/>
<ellipse cx="1447.0" cy="2313.0" rx="7.2" ry="6.3"/>
<ellipse cx="1333.0" cy="2311.0" rx="7.2" ry="6.3"/>
<ellipse cx="1346.4" cy="2318.0" rx="7.2" ry="6.3"/>
<ellipse cx="1329.0" cy="2339.4" rx="7.2" ry="6.3"/>
<ellipse cx="1440.5" cy="2375.5" rx="7.2" ry="6.3"/>
<ellipse cx="1440.5" cy="2389.5" rx="7.2" ry="6.3"/>
<ellipse cx="1299.0" cy="2447.0" rx="7.2" ry="6.3"/>
<ellipse cx="1657.2" cy="2441.7" rx="7.2" ry="6.3"/>
<ellipse cx="1267.0" cy="2566.4" rx="7.2" ry="6.3"/>
<ellipse cx="1438.6" cy="2551.0" rx="7.2" ry="6.3"/>
<ellipse cx="1436.6" cy="2568.0" rx="7.2" ry="6.3"/>
<ellipse cx="1438.6" cy="2588.0" rx="7.2" ry="6.3"/>
<ellipse cx="1543.6" cy="2651.0" rx="7.2" ry="6.3"/>
<ellipse cx="1603.8" cy="2493.0" rx="7.2" ry="6.3"/>
<ellipse cx="1613.6" cy="2497.6" rx="7.2" ry="6.3"/>
<ellipse cx="1579.5" cy="2516.5" rx="7.2" ry="6.3"/>
<ellipse cx="1613.0" cy="2538.6" rx="7.2" ry="6.3"/>
<ellipse cx="1604.7" cy="2561.4" rx="7.2" ry="6.3"/>
<ellipse cx="1774.6" cy="2600.6" rx="7.2" ry="6.3"/>
<ellipse cx="1774.6" cy="2673.9" rx="7.2" ry="6.3"/>
<ellipse cx="1101.0" cy="2518.0" rx="7.2" ry="6.3"/>
<ellipse cx="1050.4" cy="2546.6" rx="7.2" ry="6.3"/>
<ellipse cx="1222.0" cy="2575.0" rx="7.2" ry="6.3"/>
<ellipse cx="1224.0" cy="2582.0" rx="7.2" ry="6.3"/>
<ellipse cx="1217.0" cy="2623.6" rx="7.2" ry="6.3"/>
<ellipse cx="1223.6" cy="2638.6" rx="7.2" ry="6.3"/>
<ellipse cx="1221.0" cy="2670.4" rx="7.2" ry="6.3"/>
</g>
<rect x="267.3" y="1727.5" width="1515.6" height="1126.0" fill="none" stroke="#2d2d2d" stroke-width="3.4"/>
<path d="M267.3 2572.0H281.8M1782.9 2572.0H1768.4M267.3 2290.5H281.8M1782.9 2290.5H1768.4M267.3 2009.0H281.8M1782.9 2009.0H1768.4M309.4 2853.5V2839.0M309.4 1727.5V1742.0M519.9 2853.5V2839.0M519.9 1727.5V1742.0M730.4 2853.5V2839.0M730.4 1727.5V1742.0M940.9 2853.5V2839.0M940.9 1727.5V1742.0M1151.4 2853.5V2839.0M1151.4 1727.5V1742.0M1361.9 2853.5V2839.0M1361.9 1727.5V1742.0M1572.4 2853.5V2839.0M1572.4 1727.5V1742.0" stroke="#2d2d2d" stroke-width="3.2" fill="none"/>
<rect x="265.3" y="1731" width="1519.6" height="190.5" fill="#fffff2" fill-opacity="0.5725"/>
<path d="M265.6 1726.6H1784.6" stroke="#5a5a5a" stroke-width="2.6"/>
<path d="M267.3 1729.6H1782.9" stroke="#0c2a86" stroke-width="3"/>
<defs><linearGradient id="cb"><stop offset="0" stop-color="#00ff80"/><stop offset="1" stop-color="#0000ff"/></linearGradient></defs>
<rect x="330.8" y="1513.0" width="1365.2" height="49.0" fill="url(#cb)" stroke="#3a3a3a" stroke-width="3"/>
<path d="M501.5 1562.0V1548.0M672.1 1562.0V1548.0M842.8 1562.0V1548.0M1013.4 1562.0V1548.0M1184.0 1562.0V1548.0M1354.7 1562.0V1548.0M1525.3 1562.0V1548.0" stroke="#333" stroke-width="2.8" fill="none"/>
<text transform="translate(458.80,1626.50)" font-size="63.00" fill="#111" letter-spacing="-2.57">1.5</text>
<text transform="translate(403.03,1691.60)" font-size="62.40" fill="#111" letter-spacing="-0.65">(0.245)</text>
<text transform="translate(825.88,1626.50)" font-size="63.00" fill="#111">2</text>
<text transform="translate(746.83,1691.60)" font-size="62.40" fill="#111" letter-spacing="-0.90">(0.212)</text>
<text transform="translate(1142.73,1626.50)" font-size="63.00" fill="#111" letter-spacing="-2.23">2.5</text>
<text transform="translate(1089.13,1691.60)" font-size="62.40" fill="#111" letter-spacing="-0.90">(0.190)</text>
<text transform="translate(1509.42,1626.50)" font-size="63.00" fill="#111">3</text>
<text transform="translate(1430.13,1691.60)" font-size="62.40" fill="#111" letter-spacing="-0.58">(0.173)</text>
<text transform="translate(744.03,1424.70) scale(0.9775,1)" font-size="62.00" fill="#111">Relative Permittivity</text>
<text transform="translate(698.21,1487.50) scale(0.9850,1)" font-size="62.00" fill="#111">(Wave Velocity, m ns<tspan font-size="38.50" dy="-28.50">-1</tspan><tspan dy="28.50">)</tspan></text>
<text transform="translate(47.85,1430.00)" font-size="84.50" fill="#000">b</text>
<text transform="translate(101.58,1429.50) scale(0.8531,1)" font-size="84.00" fill="#000">)</text>
<text transform="translate(162.38,1748.60)" font-size="62.00" fill="#444444" letter-spacing="2.83">0.2</text>
<text transform="translate(124.58,2031.10)" font-size="62.00" fill="#444444" letter-spacing="2.99">0.15</text>
<text transform="translate(162.38,2312.80)" font-size="62.00" fill="#444444" letter-spacing="-1.22">0.1</text>
<text transform="translate(123.98,2595.70)" font-size="62.00" fill="#444444" letter-spacing="3.12">0.05</text>
<text transform="translate(217.28,2875.40)" font-size="62.00" fill="#444444">0</text>
<text transform="translate(251.18,2922.20)" font-size="62.00" fill="#444444" letter-spacing="5.35">150</text>
<text transform="translate(463.28,2922.20)" font-size="62.00" fill="#444444" letter-spacing="4.55">200</text>
<text transform="translate(673.78,2922.20)" font-size="62.00" fill="#444444" letter-spacing="4.55">250</text>
<text transform="translate(885.04,2922.20)" font-size="62.00" fill="#444444" letter-spacing="4.17">300</text>
<text transform="translate(1095.54,2922.20)" font-size="62.00" fill="#444444" letter-spacing="4.17">350</text>
<text transform="translate(1306.98,2922.20)" font-size="62.00" fill="#444444" letter-spacing="3.70">400</text>
<text transform="translate(1517.48,2922.20)" font-size="62.00" fill="#444444" letter-spacing="3.70">450</text>
<text transform="translate(1726.92,2922.20)" font-size="62.00" fill="#444444" letter-spacing="4.23">500</text>
<text transform="translate(692.90,3006.60) scale(1.1009,1)" font-size="62.00" fill="#444444">Snow Density (kg m<tspan font-size="38.50" dy="-28.50">-3</tspan><tspan dy="28.50">)</tspan></text>
<text transform="translate(101.70,2569.14) rotate(-90) scale(0.8434,1)" font-size="70.00" fill="#444444">Liquid Water Content</text>
<text transform="translate(268.89,1804.00) scale(0.9951,1)" font-size="67.00" fill="#000"><tspan font-style="italic">k</tspan> = [1 + 0.0014(<tspan font-style="italic">ρ</tspan><tspan font-size="44.00" font-style="italic" dy="11.00">s</tspan><tspan dy="-11.00"> - </tspan><tspan font-style="italic">1000θ</tspan><tspan font-size="44.00" font-style="italic" dy="11.00">w</tspan><tspan font-style="italic" dy="-11.00">)</tspan>+ 2x10<tspan font-size="44.00" dy="-30.00">-7</tspan><tspan dy="30.00"> (</tspan><tspan font-style="italic">ρ</tspan><tspan font-size="44.00" font-style="italic" dy="11.00">s</tspan><tspan dy="-11.00"> - </tspan><tspan font-style="italic">1000θ</tspan><tspan font-size="44.00" font-style="italic" dy="11.00">w</tspan><tspan font-style="italic" dy="-11.00">)</tspan><tspan font-size="44.00" dy="-30.00">2</tspan><tspan dy="30.00">]</tspan></text>
<text transform="translate(540.12,1891.70) scale(1.0036,1)" font-size="67.00" fill="#000">+ (0.01<tspan font-style="italic">θ</tspan><tspan font-size="44.00" font-style="italic" dy="11.00">w</tspan><tspan dy="-11.00"> + 0.4</tspan><tspan font-style="italic">θ</tspan><tspan font-size="44.00" font-style="italic" dy="11.00">w</tspan><tspan font-size="44.00" dy="-41.00">2</tspan><tspan dy="30.00">)</tspan><tspan font-style="italic">k</tspan><tspan font-size="44.00" font-style="italic" dy="11.00">w</tspan></text>
</svg>
</body></html>
